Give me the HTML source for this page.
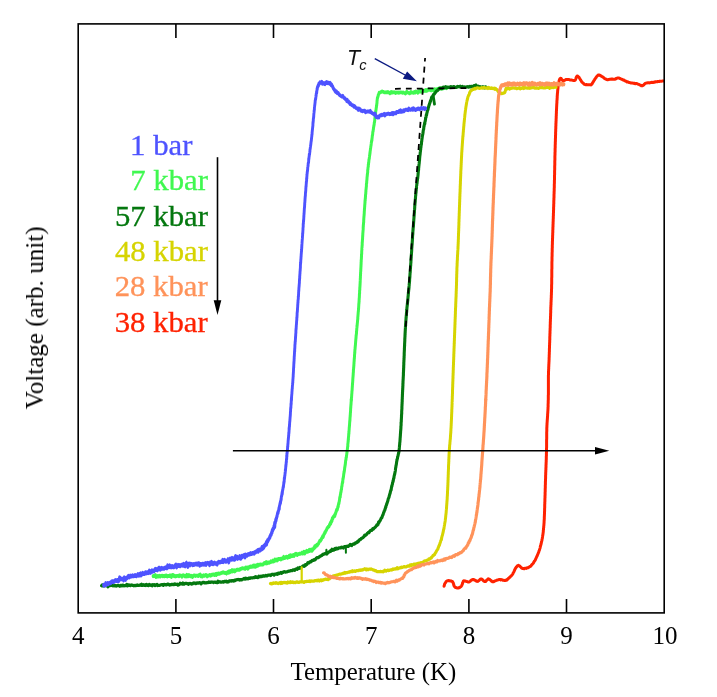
<!DOCTYPE html>
<html lang="en">
<head>
<meta charset="utf-8">
<title>Voltage vs Temperature</title>
<style>
html, body { margin: 0; padding: 0; background: #ffffff; }
body { width: 717px; height: 697px; overflow: hidden; font-family: "Liberation Serif", serif; }
svg { display: block; }
</style>
</head>
<body>
<svg width="717" height="697" viewBox="0 0 717 697">
<rect x="0" y="0" width="717" height="697" fill="#ffffff"/>
<g fill="none" stroke-linejoin="round" stroke-linecap="round">
<path transform="scale(1,1.3)" d="M153.2,443.2 L153.9,443.0 L154.6,443.1 L155.3,442.3 L156.0,443.9 L156.7,443.6 L157.4,443.0 L158.1,443.5 L158.8,443.3 L159.5,442.9 L160.2,443.5 L160.9,443.0 L161.6,443.0 L162.3,442.8 L163.0,443.3 L163.7,443.0 L164.4,443.3 L165.1,442.8 L165.8,443.1 L166.5,442.7 L167.2,443.4 L167.9,443.1 L168.6,443.1 L169.3,443.2 L170.0,442.6 L170.7,443.3 L171.4,443.8 L172.1,442.4 L172.8,442.3 L173.5,442.4 L174.2,443.3 L174.9,443.0 L175.6,443.4 L176.3,443.2 L177.0,443.0 L177.7,443.0 L178.4,442.9 L179.1,443.3 L179.8,442.5 L180.5,442.7 L181.2,443.0 L182.0,443.6 L182.7,442.6 L183.4,442.5 L184.1,442.7 L184.8,443.3 L185.5,442.8 L186.2,443.4 L186.9,442.2 L187.6,443.3 L188.3,443.3 L189.0,442.3 L189.7,442.9 L190.4,443.3 L191.1,442.9 L191.8,443.2 L192.5,443.8 L193.2,443.0 L193.9,442.7 L194.6,442.6 L195.3,443.1 L196.0,442.8 L196.7,442.8 L197.4,442.8 L198.1,443.1 L198.8,442.4 L199.5,442.2 L200.2,441.9 L200.9,443.3 L201.6,442.8 L202.3,443.4 L203.0,442.8 L203.7,442.5 L204.4,443.0 L205.1,442.7 L205.8,442.3 L206.5,442.4 L207.2,443.4 L207.9,442.8 L208.6,442.8 L209.3,442.5 L210.0,442.2 L210.7,442.8 L211.4,442.3 L212.1,442.0 L212.7,442.2 L213.4,441.8 L214.1,442.1 L214.8,442.4 L215.5,441.5 L216.2,442.3 L216.9,441.4 L217.6,441.6 L218.3,441.1 L219.0,441.3 L219.7,441.3 L220.4,441.0 L221.1,440.8 L221.8,440.7 L222.4,440.5 L223.1,440.1 L223.8,440.5 L224.5,440.7 L225.2,440.8 L225.9,440.6 L226.6,441.2 L227.3,440.3 L228.0,439.9 L228.6,440.6 L229.3,439.4 L230.0,440.1 L230.7,439.2 L231.4,439.6 L232.1,438.6 L232.8,439.6 L233.4,439.1 L234.1,438.6 L234.8,439.5 L235.5,439.0 L236.2,438.6 L236.9,438.2 L237.5,438.4 L238.2,438.2 L238.9,438.4 L239.6,438.3 L240.3,437.6 L241.0,437.6 L241.6,437.4 L242.3,437.0 L243.0,437.2 L243.7,437.2 L244.4,437.4 L245.1,437.6 L245.7,436.6 L246.4,437.0 L247.1,436.5 L247.8,437.4 L248.5,436.4 L249.2,436.5 L249.9,435.9 L250.5,435.8 L251.2,436.1 L251.9,435.7 L252.6,435.9 L253.3,435.1 L254.0,435.8 L254.6,435.1 L255.3,436.0 L256.0,435.1 L256.7,435.5 L257.4,434.4 L258.1,435.0 L258.8,434.3 L259.4,434.4 L260.1,434.4 L260.8,434.2 L261.5,434.3 L262.2,434.3 L262.8,434.2 L263.5,433.8 L264.2,433.1 L264.9,433.2 L265.5,433.3 L266.2,432.4 L266.9,433.4 L267.6,432.8 L268.2,432.7 L268.9,433.0 L269.6,432.7 L270.3,432.4 L270.9,431.8 L271.6,432.1 L272.3,432.0 L272.9,431.3 L273.6,431.9 L274.3,431.6 L274.9,430.4 L275.6,431.1 L276.3,430.4 L277.0,431.2 L277.6,430.9 L278.3,430.0 L279.0,429.9 L279.6,430.1 L280.3,429.8 L281.0,430.4 L281.7,429.9 L282.3,429.4 L283.0,429.6 L283.7,428.4 L284.4,429.2 L285.0,429.2 L285.7,428.7 L286.4,428.3 L287.1,428.7 L287.7,429.1 L288.4,428.3 L289.1,427.6 L289.8,428.5 L290.5,427.1 L291.1,427.9 L291.8,427.3 L292.5,427.7 L293.2,426.9 L293.9,427.6 L294.5,427.1 L295.2,426.2 L295.9,425.9 L296.6,426.4 L297.2,426.9 L297.9,426.3 L298.6,426.2 L299.3,425.9 L299.9,426.1 L300.6,425.9 L301.3,425.7 L302.0,425.1 L302.7,425.8 L303.4,425.7 L304.0,424.5 L304.7,425.8 L305.4,425.0 L306.1,424.4 L306.7,423.7 L307.4,424.5 L308.0,424.3 L308.7,423.6 L309.3,422.9 L309.9,423.8 L310.6,422.9 L311.2,422.7 L311.9,423.7 L312.5,423.1 L313.1,422.4 L313.7,421.6 L314.2,421.7 L314.8,420.2 L315.3,420.8 L315.8,420.1 L316.3,419.6 L316.8,419.1 L317.3,419.5 L317.7,418.9 L318.1,418.5 L318.5,418.3 L319.0,417.2 L319.4,416.6 L319.8,415.9 L320.1,416.0 L320.5,416.0 L320.9,415.2 L321.3,415.1 L321.7,413.9 L322.0,413.7 L322.4,413.2 L322.7,412.5 L323.1,413.2 L323.4,412.4 L323.8,411.3 L324.1,410.8 L324.5,410.6 L324.8,409.6 L325.1,409.8 L325.5,408.7 L325.8,408.6 L326.2,407.9 L326.5,407.6 L326.9,406.8 L327.2,406.2 L327.5,406.0 L327.9,405.6 L328.2,405.3 L328.6,405.0 L328.9,405.1 L329.3,404.3 L329.6,403.5 L330.0,403.4 L330.3,402.4 L330.7,402.7 L331.0,401.9 L331.4,400.7 L331.7,401.0 L332.0,400.6 L332.3,398.7 L332.7,399.0 L333.0,398.6 L333.3,397.6 L333.6,397.4 L333.9,397.0 L334.2,397.1 L334.5,396.5 L334.8,396.9 L335.1,395.3 L335.4,395.4 L335.7,394.5 L336.0,394.0 L336.3,393.0 L336.6,392.2 L336.8,392.1 L337.1,392.2 L337.3,392.0 L337.5,391.2 L337.7,390.6 L337.9,389.6 L338.1,390.0 L338.3,389.4 L338.4,388.1 L338.6,387.8 L338.8,386.9 L338.9,387.3 L339.1,386.4 L339.2,385.7 L339.4,385.3 L339.5,384.8 L339.6,384.0 L339.7,383.1 L339.9,382.6 L340.0,381.9 L340.1,382.2 L340.2,382.3 L340.4,380.3 L340.5,380.4 L340.6,380.0 L340.7,378.9 L340.9,378.9 L341.0,377.8 L341.1,378.2 L341.2,377.0 L341.3,376.7 L341.5,376.4 L341.6,375.4 L341.7,374.4 L341.8,374.3 L341.9,374.3 L342.0,373.4 L342.1,373.0 L342.2,372.0 L342.3,371.9 L342.4,371.6 L342.5,370.8 L342.7,371.0 L342.8,369.7 L342.9,368.8 L343.0,368.0 L343.1,368.6 L343.2,367.6 L343.3,367.5 L343.4,366.7 L343.5,366.6 L343.6,366.0 L343.7,364.8 L343.8,364.5 L343.9,364.3 L344.0,362.9 L344.1,363.4 L344.2,362.7 L344.4,362.1 L344.5,361.1 L344.6,360.8 L344.7,359.7 L344.8,359.6 L344.9,358.8 L345.0,358.6 L345.1,357.8 L345.2,357.6 L345.3,357.4 L345.4,355.9 L345.5,356.2 L345.6,354.6 L345.7,354.0 L345.8,354.2 L345.9,353.7 L346.0,353.4 L346.1,352.0 L346.2,352.1 L346.3,351.7 L346.4,351.6 L346.5,350.5 L346.6,350.2 L346.8,349.1 L346.8,348.9 L346.9,348.2 L347.0,348.1 L347.1,346.9 L347.2,346.5 L347.3,346.5 L347.3,346.4 L347.4,345.3 L347.5,344.8 L347.6,344.0 L347.6,344.0 L347.7,343.3 L347.8,343.2 L347.8,342.1 L347.9,341.1 L348.0,340.7 L348.1,340.0 L348.1,339.3 L348.2,339.8 L348.2,339.1 L348.3,337.7 L348.4,338.4 L348.4,337.2 L348.5,336.2 L348.6,336.2 L348.6,335.5 L348.7,334.7 L348.7,333.7 L348.8,333.9 L348.9,333.5 L348.9,331.8 L349.0,332.5 L349.0,332.0 L349.1,331.0 L349.1,330.7 L349.2,330.0 L349.2,329.3 L349.3,328.9 L349.3,329.1 L349.4,327.4 L349.5,327.6 L349.5,327.0 L349.6,326.1 L349.6,325.7 L349.7,324.8 L349.7,324.4 L349.8,324.2 L349.8,323.8 L349.9,322.8 L349.9,323.8 L350.0,321.9 L350.0,321.6 L350.1,320.9 L350.1,320.3 L350.2,320.4 L350.2,319.2 L350.3,319.4 L350.3,318.7 L350.4,317.4 L350.4,317.6 L350.5,316.4 L350.5,317.2 L350.6,315.5 L350.6,314.7 L350.7,313.8 L350.7,313.5 L350.8,313.2 L350.8,312.5 L350.9,311.9 L350.9,311.6 L351.0,311.2 L351.0,311.3 L351.1,309.6 L351.1,309.5 L351.2,308.8 L351.2,308.0 L351.3,307.6" stroke="#40f850" stroke-width="3.0"/>
<path transform="scale(1,1.2)" d="M351.3,333.2 L351.3,332.9 L351.4,332.8 L351.4,331.9 L351.5,331.2 L351.6,331.1 L351.6,330.4 L351.7,329.6 L351.7,329.2 L351.8,328.2 L351.8,328.1 L351.9,327.5 L351.9,326.6 L352.0,325.8 L352.0,326.1 L352.1,325.0 L352.1,325.5 L352.2,323.6 L352.2,323.6 L352.3,322.5 L352.3,322.2 L352.4,321.8 L352.4,320.7 L352.5,320.3 L352.5,319.8 L352.6,319.2 L352.6,318.8 L352.7,318.4 L352.7,317.7 L352.8,316.9 L352.8,316.1 L352.9,315.3 L352.9,314.8 L353.0,314.3 L353.0,314.2 L353.1,313.2 L353.1,312.3 L353.2,312.4 L353.2,311.3 L353.3,310.8 L353.3,310.4 L353.4,310.0 L353.4,308.4 L353.5,308.3 L353.5,308.2 L353.6,307.4 L353.6,306.6 L353.7,306.2 L353.7,306.3 L353.8,305.0 L353.8,304.9 L353.9,304.3 L353.9,303.3 L354.0,303.0 L354.0,302.1 L354.1,301.5 L354.1,300.7 L354.2,300.8 L354.2,299.8 L354.3,299.2 L354.3,298.4 L354.4,298.8 L354.4,297.9 L354.5,297.0 L354.5,296.2 L354.6,295.3 L354.6,295.4 L354.7,294.8 L354.7,293.6 L354.8,293.9 L354.8,293.2 L354.9,292.0 L354.9,291.6 L355.0,291.1 L355.1,290.7 L355.1,290.0 L355.2,288.9 L355.2,289.4 L355.3,288.4 L355.3,288.2 L355.4,287.6 L355.5,286.5 L355.5,286.1 L355.6,285.6 L355.6,285.1 L355.7,284.2 L355.8,283.4 L355.8,283.1 L355.9,282.2 L356.0,281.7 L356.0,280.6 L356.1,280.8 L356.1,279.8 L356.2,279.4 L356.3,279.0 L356.3,278.5 L356.4,278.5 L356.5,277.3 L356.5,276.2 L356.6,276.1 L356.7,275.3 L356.7,275.0 L356.8,274.1 L356.8,273.5 L356.9,273.0 L357.0,272.4 L357.0,271.4 L357.1,271.2 L357.2,270.8 L357.2,270.7 L357.3,269.6 L357.4,269.0 L357.4,268.7 L357.5,268.1 L357.5,267.9 L357.6,267.0 L357.7,266.2 L357.7,266.1 L357.8,265.5 L357.8,264.3 L357.9,263.9 L358.0,262.7 L358.0,262.5 L358.1,261.8 L358.1,261.4 L358.2,260.8 L358.2,260.3 L358.3,259.7 L358.4,259.4 L358.4,258.7 L358.5,257.8 L358.5,257.0 L358.6,257.3 L358.6,256.8 L358.7,255.5 L358.7,255.3 L358.8,254.0 L358.8,253.4 L358.9,253.3 L358.9,253.3 L359.0,251.8 L359.0,251.3 L359.1,251.6 L359.1,249.8 L359.1,250.1 L359.2,249.4 L359.2,248.6 L359.3,248.2 L359.3,248.4 L359.4,246.5 L359.4,246.2 L359.4,245.7 L359.5,244.9 L359.5,244.1 L359.6,244.6 L359.6,243.5 L359.6,242.2 L359.7,242.0 L359.7,241.8 L359.8,241.2 L359.8,240.0 L359.8,239.9 L359.9,239.4 L359.9,238.9 L360.0,238.3 L360.0,237.0 L360.0,237.7 L360.1,236.5 L360.1,236.5 L360.1,236.3 L360.2,234.6 L360.2,233.7 L360.2,233.8 L360.3,232.9 L360.3,232.2 L360.4,231.4 L360.4,231.8 L360.4,230.4 L360.5,229.5 L360.5,229.3 L360.5,228.4 L360.6,228.3 L360.6,227.5 L360.6,226.7 L360.7,226.7 L360.7,225.7 L360.7,225.6 L360.8,225.2 L360.8,224.1 L360.9,223.4 L360.9,223.1 L360.9,222.7 L361.0,221.8 L361.0,221.3 L361.0,220.7 L361.1,220.2 L361.1,219.7 L361.1,218.7 L361.2,218.2 L361.2,217.8 L361.2,216.9 L361.3,216.6 L361.3,216.2 L361.4,215.4 L361.4,214.6 L361.4,214.0 L361.5,214.3 L361.5,213.4 L361.5,212.1 L361.6,211.6 L361.6,212.0 L361.7,211.3 L361.7,210.2 L361.7,210.0 L361.8,208.5 L361.8,208.4 L361.9,208.1 L361.9,206.6 L361.9,206.4 L362.0,206.4 L362.0,205.9 L362.1,204.7 L362.1,204.4 L362.2,204.3 L362.2,203.0 L362.2,202.1 L362.3,202.0 L362.3,201.3 L362.4,201.3 L362.4,200.3 L362.5,199.4 L362.5,199.9 L362.6,198.3 L362.6,198.1 L362.6,197.6 L362.7,197.0 L362.7,196.2 L362.8,195.8 L362.8,195.0 L362.9,193.9 L362.9,193.8 L363.0,193.2 L363.0,192.6 L363.1,192.1 L363.1,191.3 L363.1,191.4 L363.2,190.9 L363.2,189.0 L363.3,189.2 L363.3,188.3 L363.4,187.1 L363.4,187.6 L363.5,186.6 L363.5,186.1 L363.6,185.4 L363.6,185.5 L363.7,184.9 L363.7,184.0 L363.7,183.6 L363.8,182.7 L363.8,182.2 L363.9,181.3 L363.9,181.0 L364.0,180.2 L364.0,180.0 L364.1,179.5 L364.1,178.8 L364.2,178.5 L364.2,178.4 L364.3,176.2 L364.3,176.3 L364.4,175.6 L364.4,175.0 L364.5,174.1 L364.5,174.0 L364.6,173.3 L364.6,172.6 L364.7,172.2 L364.7,171.5 L364.8,170.3 L364.8,170.9 L364.9,169.8 L364.9,169.0 L365.0,168.9 L365.0,167.9 L365.1,166.8 L365.2,167.3 L365.2,165.8 L365.3,165.8 L365.3,165.3 L365.4,165.2 L365.4,164.5 L365.5,163.6 L365.5,162.7 L365.6,162.2 L365.6,162.1 L365.7,161.8 L365.8,160.8 L365.8,159.8 L365.9,159.8 L365.9,158.7 L366.0,158.1 L366.1,157.6 L366.1,157.3 L366.2,156.6 L366.2,156.3 L366.3,155.8 L366.4,155.0 L366.4,153.4 L366.5,153.0 L366.5,153.1 L366.6,152.4 L366.7,152.6 L366.7,151.3 L366.8,150.7 L366.8,150.5 L366.9,149.9 L367.0,148.9 L367.0,148.5 L367.1,147.4 L367.2,146.9 L367.2,147.1 L367.3,145.6 L367.4,145.8 L367.4,145.1 L367.5,144.6 L367.6,144.1 L367.7,143.3 L367.7,141.8 L367.8,141.6 L367.9,141.2 L367.9,141.1 L368.0,139.9 L368.1,139.4 L368.2,139.0 L368.3,139.0 L368.3,137.4 L368.4,136.9 L368.5,137.0 L368.6,135.4 L368.7,135.7 L368.8,134.9 L368.9,133.9 L368.9,133.7 L369.0,132.9 L369.1,132.8 L369.2,132.3 L369.3,132.1 L369.4,131.0 L369.5,130.4 L369.6,129.6 L369.7,129.2 L369.8,129.0 L369.9,127.4 L370.0,127.7 L370.1,126.7 L370.1,126.4 L370.2,125.9 L370.3,125.5 L370.4,124.7 L370.5,123.9 L370.6,123.5 L370.7,122.9 L370.8,122.2 L370.9,121.8 L371.0,121.4 L371.1,120.6 L371.2,120.0 L371.3,118.9 L371.4,118.8 L371.5,117.6 L371.6,117.9 L371.7,116.7 L371.8,116.9 L371.9,117.0 L372.0,115.2 L372.1,115.2 L372.2,114.3 L372.3,113.4 L372.4,112.7 L372.5,112.6 L372.6,112.4 L372.7,111.4 L372.8,110.2 L372.9,109.8 L373.0,109.5 L373.1,109.4 L373.2,108.5 L373.3,107.9 L373.4,107.7 L373.5,106.6 L373.6,106.1 L373.8,105.4 L373.9,104.3 L374.0,104.5 L374.1,103.9 L374.2,103.5 L374.3,102.2 L374.4,101.8 L374.5,101.8 L374.6,101.0 L374.7,100.8 L374.8,99.4 L374.8,99.2 L374.9,98.3 L375.0,98.1 L375.1,97.2 L375.2,97.0 L375.3,96.6 L375.4,95.9 L375.5,94.5 L375.5,94.8 L375.6,94.1 L375.7,93.0 L375.8,92.5 L375.9,92.2 L376.0,91.8 L376.1,90.9 L376.2,89.9 L376.3,90.0 L376.4,89.3 L376.4,89.6 L376.5,87.7 L376.6,88.4 L376.7,87.6 L376.8,86.5 L376.9,86.3 L377.0,85.2 L377.0,84.9 L377.1,83.7 L377.2,83.4 L377.3,82.5 L377.4,81.7 L377.6,81.6 L377.7,80.9 L377.8,80.8 L378.0,80.5 L378.2,79.4 L378.5,78.9 L378.8,78.3 L379.2,77.1 L379.7,77.4 L380.2,77.0 L380.7,76.9 L381.4,76.4 L382.1,76.0 L382.9,76.5 L383.6,76.7 L384.3,77.1 L385.0,77.0 L385.7,77.1 L386.4,76.8 L387.1,77.1 L387.8,76.6 L388.5,77.0 L389.2,77.1 L389.9,77.8 L390.6,77.0 L391.3,76.5 L392.0,77.4 L392.7,76.7 L393.4,77.0 L394.1,77.0 L394.8,76.8 L395.5,77.6 L396.2,77.3 L396.9,76.9 L397.6,77.2 L398.3,77.0 L399.0,77.4 L399.7,77.1 L400.4,76.9 L401.1,77.0 L401.8,77.1 L402.5,77.4 L403.2,77.0 L403.9,77.3 L404.6,77.5 L405.3,78.1 L406.0,77.6 L406.7,76.3 L407.4,77.1 L408.1,77.2 L408.8,77.4 L409.5,77.9 L410.2,77.6 L410.9,76.5 L411.6,77.3 L412.3,77.2 L413.0,77.2 L413.7,77.5 L414.4,76.5 L415.1,77.2 L415.8,76.2 L416.5,76.7 L417.2,76.7 L417.9,77.3 L418.6,76.1 L419.3,75.7 L420.0,76.4 L420.6,75.8 L421.3,76.5 L422.0,75.6 L422.7,75.4 L423.4,76.1 L424.1,75.6 L424.8,75.8 L425.5,74.9 L426.2,75.9 L426.9,75.0 L427.6,75.5 L428.3,74.8 L429.0,74.5 L429.7,74.9 L430.4,75.0 L431.1,75.5 L431.8,75.0 L432.5,75.0 L433.2,75.0 L433.9,75.8 L434.6,74.3 L435.3,75.0 L436.0,74.4 L436.7,74.5 L437.3,74.1 L438.0,74.7 L438.7,73.7 L439.4,73.6 L440.1,73.9 L440.8,73.5 L441.5,74.0 L442.2,74.0 L442.9,73.3 L443.6,73.7 L444.3,73.1 L444.9,73.2 L445.6,73.1 L446.3,73.6 L447.0,72.8" stroke="#40f850" stroke-width="3.0"/>
<path transform="scale(1,1.05)" d="M101.6,557.9 L102.3,557.0 L103.0,558.0 L103.7,557.7 L104.4,557.7 L105.1,557.8 L105.8,557.2 L106.5,557.8 L107.2,557.5 L107.9,558.9 L108.6,557.9 L109.3,557.7 L110.0,557.7 L110.7,557.6 L111.4,557.4 L112.1,557.6 L112.8,557.9 L113.5,557.7 L114.2,558.0 L114.9,557.6 L115.6,557.7 L116.3,558.2 L117.0,557.9 L117.7,557.5 L118.4,557.6 L119.1,557.8 L119.8,558.3 L120.5,557.5 L121.2,557.5 L121.9,558.0 L122.6,557.3 L123.3,557.5 L124.0,557.9 L124.7,557.8 L125.4,557.6 L126.1,557.8 L126.8,556.6 L127.5,557.9 L128.2,557.2 L128.9,557.0 L129.6,557.6 L130.3,557.7 L131.0,557.3 L131.7,557.1 L132.4,557.5 L133.1,557.4 L133.8,557.9 L134.5,557.7 L135.2,557.5 L135.9,557.8 L136.6,557.4 L137.3,557.1 L138.0,557.6 L138.7,557.6 L139.5,557.3 L140.2,557.1 L140.9,557.4 L141.6,556.5 L142.3,557.6 L143.0,557.5 L143.7,556.8 L144.4,557.4 L145.1,557.0 L145.8,557.6 L146.5,556.6 L147.2,557.0 L147.9,557.5 L148.6,557.7 L149.3,556.6 L150.0,557.1 L150.7,557.4 L151.4,557.0 L152.1,557.8 L152.8,556.8 L153.5,557.3 L154.2,556.8 L154.9,557.7 L155.6,557.2 L156.3,557.0 L157.0,556.6 L157.7,557.7 L158.4,557.4 L159.1,557.4 L159.8,557.5 L160.5,557.2 L161.2,556.9 L161.9,556.8 L162.6,556.8 L163.3,557.5 L164.0,556.5 L164.7,556.8 L165.4,556.8 L166.1,557.0 L166.8,557.1 L167.5,556.4 L168.2,556.3 L168.9,556.8 L169.6,557.2 L170.3,557.0 L171.0,556.8 L171.7,556.6 L172.4,556.7 L173.1,556.5 L173.8,556.8 L174.5,556.2 L175.2,556.5 L175.9,556.4 L176.6,556.6 L177.3,556.4 L178.0,557.2 L178.7,556.8 L179.4,556.7 L180.1,555.5 L180.8,556.0 L181.5,555.9 L182.2,556.2 L182.9,555.3 L183.6,556.4 L184.3,556.3 L185.0,555.5 L185.7,555.5 L186.4,555.6 L187.1,555.8 L187.8,556.0 L188.5,556.4 L189.2,555.6 L189.9,555.9 L190.6,555.7 L191.3,556.2 L192.0,555.8 L192.7,556.0 L193.4,555.2 L194.1,555.4 L194.8,555.2 L195.5,555.9 L196.2,555.6 L196.9,555.2 L197.6,555.2 L198.3,555.4 L199.0,555.0 L199.7,554.9 L200.4,555.3 L201.1,556.0 L201.8,555.0 L202.5,554.9 L203.2,554.7 L203.9,554.6 L204.6,555.1 L205.3,555.2 L206.0,554.9 L206.7,555.0 L207.4,554.9 L208.1,554.8 L208.8,554.2 L209.5,554.6 L210.2,554.7 L210.9,554.4 L211.6,554.5 L212.3,554.3 L213.0,554.4 L213.7,554.8 L214.4,554.3 L215.1,554.4 L215.8,554.7 L216.5,554.6 L217.2,554.9 L217.9,553.6 L218.6,554.5 L219.3,554.0 L220.0,554.2 L220.7,554.4 L221.4,554.4 L222.1,554.3 L222.8,554.0 L223.5,554.4 L224.2,553.7 L224.9,553.7 L225.6,554.0 L226.3,553.5 L227.0,554.3 L227.7,553.9 L228.4,554.2 L229.1,553.4 L229.7,553.2 L230.4,553.3 L231.1,553.4 L231.8,552.9 L232.5,553.1 L233.2,552.9 L233.9,553.3 L234.6,552.5 L235.3,552.9 L236.0,552.3 L236.7,552.1 L237.4,552.1 L238.1,551.8 L238.8,552.2 L239.5,552.4 L240.2,552.0 L240.9,552.1 L241.6,552.3 L242.3,551.7 L242.9,551.6 L243.6,551.4 L244.3,550.8 L245.0,551.5 L245.7,550.6 L246.4,551.3 L247.1,551.0 L247.8,551.3 L248.5,550.8 L249.2,550.5 L249.9,550.8 L250.6,550.4 L251.3,550.4 L252.0,550.4 L252.7,550.3 L253.4,550.2 L254.1,549.9 L254.8,550.0 L255.5,549.2 L256.1,549.8 L256.8,549.4 L257.5,550.0 L258.2,550.0 L258.9,548.8 L259.6,549.4 L260.3,549.2 L261.0,548.8 L261.7,549.2 L262.4,548.8 L263.1,548.3 L263.8,548.6 L264.5,548.6 L265.1,548.5 L265.8,548.0 L266.5,548.5 L267.2,548.4 L267.9,547.7 L268.6,547.7 L269.3,547.8 L270.0,547.5 L270.7,548.1 L271.4,547.5 L272.0,547.0 L272.7,546.9 L273.4,547.0 L274.1,547.7 L274.8,546.7 L275.5,546.7 L276.2,546.7 L276.9,546.3 L277.5,547.0 L278.2,545.9 L278.9,546.2 L279.6,545.8 L280.3,545.9 L281.0,545.1 L281.6,546.0 L282.3,545.2 L283.0,545.1 L283.7,544.6 L284.4,544.5 L285.1,544.8 L285.8,544.8 L286.4,544.6 L287.1,544.6 L287.8,544.3 L288.5,543.9 L289.2,544.0 L289.9,543.8 L290.6,543.4 L291.3,543.5 L292.0,543.5 L292.6,543.0 L293.3,542.7 L294.0,542.8 L294.7,543.1 L295.3,542.2 L296.0,542.0 L296.7,541.8 L297.3,542.1 L298.0,540.8 L298.7,541.4 L299.3,541.4 L299.9,540.5 L300.6,541.0 L301.2,540.4 L301.8,539.8 L302.4,539.7 L303.1,538.9 L303.7,538.8 L304.3,539.3 L304.9,538.1 L305.5,538.6 L306.1,537.6 L306.7,537.6 L307.3,537.0 L307.9,535.8 L308.5,536.1 L309.1,536.0 L309.7,535.2 L310.4,534.8 L311.0,535.0 L311.6,534.4 L312.2,533.7 L312.8,533.7 L313.4,533.8 L314.0,533.0 L314.6,533.2 L315.2,533.0 L315.8,532.2 L316.4,531.5 L317.0,531.1 L317.6,531.2 L318.2,531.1 L318.8,530.6 L319.4,530.4 L320.1,529.7 L320.7,529.7 L321.3,529.1 L321.9,528.9 L322.5,528.2 L323.2,527.8 L323.8,527.9 L324.4,527.4 L325.1,527.2 L325.7,527.4 L326.3,526.9 L326.9,527.6 L327.6,526.6 L328.2,525.8 L328.8,525.9 L329.5,525.5 L330.1,524.8 L330.7,525.1 L331.3,524.2 L332.0,523.1 L332.6,524.1 L333.3,523.4 L333.9,523.8 L334.5,522.8 L335.2,522.4 L335.8,523.1 L336.5,522.1 L337.2,522.3 L337.8,522.6 L338.5,522.0 L339.2,521.8 L339.9,521.7 L340.6,521.8 L341.3,521.2 L342.0,521.5 L342.7,521.4 L343.4,521.9 L344.1,520.8 L344.7,520.5 L345.4,520.9 L346.1,520.4 L346.8,520.4 L347.5,520.2 L348.2,520.4 L348.9,519.6 L349.5,519.6 L350.2,518.6 L350.9,519.0 L351.6,519.6 L352.2,518.6 L352.9,518.4 L353.5,518.0 L354.1,518.3 L354.7,517.9 L355.3,517.1 L355.9,517.3 L356.4,516.8 L357.0,516.6 L357.6,515.7 L358.1,516.0 L358.7,515.2 L359.2,514.5 L359.7,514.0 L360.3,513.6 L360.8,513.5 L361.4,512.7 L361.9,512.8 L362.5,512.2 L363.0,512.0 L363.6,511.4 L364.1,510.7 L364.7,509.7 L365.2,510.0 L365.7,509.7 L366.3,509.1 L366.8,508.8 L367.3,508.0 L367.9,507.6 L368.4,507.0 L368.9,507.3 L369.5,506.5 L370.0,505.8 L370.5,505.1 L371.1,505.1 L371.6,505.2 L372.2,504.4 L372.7,503.6 L373.3,503.9 L373.8,503.4 L374.3,502.8 L374.9,502.3 L375.4,502.0 L375.9,501.3 L376.3,500.9 L376.8,499.9 L377.2,500.2 L377.7,499.2 L378.1,499.3 L378.5,497.4 L378.9,497.8 L379.2,497.3 L379.6,496.3 L380.0,496.0 L380.3,495.5 L380.7,494.8 L381.0,493.9 L381.3,493.4 L381.7,493.2 L382.0,492.7 L382.3,491.7 L382.5,491.1 L382.8,490.5 L383.1,490.2 L383.4,488.9 L383.6,488.2 L383.9,488.0 L384.1,487.0 L384.4,486.5 L384.6,486.1 L384.9,485.6 L385.1,484.5 L385.3,484.5 L385.6,483.0 L385.8,483.1 L386.0,481.8 L386.2,481.2 L386.4,481.2 L386.7,480.3 L386.9,479.5 L387.1,479.0 L387.3,478.6 L387.5,477.8 L387.7,477.2 L387.9,476.9 L388.1,475.7 L388.3,475.1 L388.5,474.5 L388.7,474.4 L388.9,473.7 L389.1,473.2 L389.3,472.1 L389.5,471.4 L389.7,471.1 L389.9,470.0 L390.1,469.8 L390.3,469.1 L390.4,468.0 L390.6,467.6 L390.8,466.9 L391.0,466.9 L391.2,466.5 L391.3,465.0 L391.5,464.4 L391.7,462.9 L391.9,463.1 L392.0,462.4 L392.2,461.4 L392.4,461.4 L392.5,459.9 L392.7,459.7 L392.9,459.2 L393.0,458.1 L393.2,458.2 L393.3,457.6 L393.5,456.1 L393.7,455.4 L393.8,455.5 L394.0,454.6 L394.1,453.6 L394.2,453.2 L394.4,452.6 L394.5,451.9 L394.7,451.6 L394.8,450.8 L394.9,450.6 L395.0,449.8 L395.2,448.9 L395.3,448.4 L395.4,447.8 L395.5,447.0 L395.6,445.7 L395.7,445.7 L395.8,444.8 L395.9,444.6 L396.0,443.5 L396.2,443.0 L396.3,442.2 L396.4,442.0 L396.5,440.9 L396.6,440.1 L396.7,439.6 L396.9,438.7 L397.0,438.2 L397.1,437.5 L397.3,437.0 L397.4,436.9 L397.6,435.4 L397.8,434.9 L398.0,434.2 L398.1,433.8 L398.3,432.6 L398.5,432.1 L398.6,431.6 L398.7,431.2 L398.9,430.3 L399.0,429.5 L399.0,428.7 L399.1,428.5 L399.2,428.2 L399.3,427.2 L399.3,426.5 L399.4,425.9 L399.5,424.8 L399.5,424.3 L399.6,423.7 L399.7,423.2 L399.7,422.4 L399.8,421.4 L399.8,421.5 L399.9,421.0 L400.0,419.7 L400.0,419.3 L400.1,418.6 L400.1,418.1 L400.2,416.7 L400.2,417.0 L400.3,415.7 L400.3,415.6 L400.4,414.5 L400.4,413.7 L400.5,413.1 L400.5,412.8 L400.6,411.5 L400.6,411.0 L400.7,410.3 L400.7,409.3 L400.8,409.6 L400.8,408.7 L400.9,407.8 L400.9,407.6 L400.9,406.2 L401.0,405.8 L401.0,405.7 L401.1,404.8 L401.1,403.1 L401.1,402.1 L401.2,402.2 L401.2,402.2 L401.3,401.0 L401.3,400.4 L401.3,400.0 L401.4,398.9 L401.4,398.6 L401.4,398.1 L401.5,397.3 L401.5,396.6 L401.5,395.6 L401.6,395.3 L401.6,394.3 L401.6,394.2 L401.7,394.0 L401.7,392.2 L401.7,391.1 L401.8,391.0 L401.8,390.6 L401.8,390.1 L401.9,389.5 L401.9,388.2 L401.9,387.5 L401.9,387.5 L402.0,386.1 L402.0,386.1 L402.0,385.0 L402.1,384.7 L402.1,384.0 L402.1,383.4 L402.2,382.7 L402.2,381.4 L402.2,381.2 L402.2,380.4 L402.3,379.9 L402.3,379.5 L402.3,378.3 L402.4,377.5 L402.4,376.8 L402.4,376.3 L402.4,376.0 L402.5,374.8 L402.5,374.8 L402.5,373.8 L402.6,373.0 L402.6,372.0 L402.6,371.8 L402.7,371.3 L402.7,369.8 L402.7,370.1 L402.8,369.6 L402.8,368.5 L402.8,367.9 L402.9,367.9 L402.9,366.8 L402.9,365.4 L403.0,365.0 L403.0,364.3 L403.0,363.7 L403.1,362.3 L403.1,362.6 L403.1,361.5 L403.2,361.1 L403.2,360.3 L403.2,360.0 L403.3,359.0 L403.3,358.1 L403.3,357.9 L403.4,357.5 L403.4,356.3 L403.4,356.2 L403.4,355.1 L403.5,354.2 L403.5,354.2 L403.5,352.8 L403.6,352.7 L403.6,351.5 L403.6,351.2 L403.7,350.0 L403.7,349.4 L403.7,349.4 L403.7,348.4 L403.8,347.7 L403.8,346.9 L403.8,346.5 L403.8,345.2 L403.9,344.7 L403.9,344.3 L403.9,343.4 L404.0,342.8 L404.0,342.3 L404.0,341.7 L404.0,341.0 L404.1,340.9 L404.1,340.0 L404.1,339.4 L404.2,338.4 L404.2,337.5 L404.2,336.5 L404.2,336.3 L404.3,335.0 L404.3,334.8 L404.3,334.6 L404.3,334.2 L404.4,333.4 L404.4,332.1 L404.4,331.9 L404.5,330.8 L404.5,330.6 L404.5,329.7 L404.5,329.3 L404.6,329.2 L404.6,328.0 L404.6,327.8 L404.7,326.4 L404.7,325.6 L404.7,325.5 L404.8,324.9 L404.8,323.5 L404.8,323.1 L404.9,321.9 L404.9,321.6 L404.9,321.3 L405.0,320.3 L405.0,319.5 L405.0,318.6 L405.1,318.5 L405.1,318.0 L405.1,317.2 L405.2,316.4 L405.2,315.3 L405.2,315.6 L405.3,314.3 L405.3,313.6 L405.4,313.3 L405.4,311.6 L405.4,311.7 L405.5,311.0 L405.5,310.5 L405.6,310.1 L405.6,309.2 L405.7,307.8 L405.7,307.6 L405.8,307.1 L405.8,306.4 L405.9,305.3 L405.9,304.5 L406.0,304.6 L406.0,303.8 L406.1,303.0 L406.1,301.8 L406.2,302.3 L406.3,300.1 L406.3,300.3 L406.4,300.4 L406.4,299.0 L406.5,298.5 L406.6,297.3 L406.6,297.5 L406.7,296.0 L406.7,295.8 L406.8,295.1 L406.9,294.0 L406.9,294.0 L407.0,292.6 L407.1,292.2 L407.1,291.7 L407.2,290.9 L407.3,290.6 L407.3,290.1 L407.4,289.0 L407.5,288.2 L407.6,287.6 L407.6,287.0 L407.7,286.7 L407.8,285.7 L407.8,285.2 L407.9,284.4 L408.0,283.5 L408.0,283.4 L408.1,282.1 L408.2,281.8 L408.2,281.6 L408.3,280.1 L408.4,279.8 L408.4,278.6 L408.5,278.3 L408.6,277.3 L408.6,277.0 L408.7,276.3 L408.8,275.8 L408.8,275.7 L408.9,274.6 L409.0,274.0 L409.0,273.1 L409.1,272.4 L409.2,271.5 L409.2,270.5 L409.3,270.5 L409.3,270.3 L409.4,269.3 L409.4,268.3 L409.5,268.4 L409.6,267.0 L409.6,266.3 L409.7,265.4 L409.7,264.8 L409.8,264.4 L409.8,264.5 L409.9,263.1 L409.9,262.1 L410.0,261.6 L410.0,261.1 L410.1,259.9 L410.1,259.9 L410.2,259.4 L410.2,258.6 L410.3,258.0 L410.3,256.7 L410.4,255.9 L410.4,256.3 L410.5,255.5 L410.5,254.0 L410.6,253.9 L410.6,253.2 L410.7,252.7 L410.7,251.9 L410.8,251.0 L410.8,250.6 L410.9,249.9 L410.9,249.1 L411.0,247.9 L411.0,246.8 L411.1,246.9 L411.1,246.0 L411.1,245.9 L411.2,245.4 L411.2,244.6 L411.3,243.7 L411.3,243.2 L411.4,242.9 L411.4,241.6 L411.5,241.5 L411.5,240.7 L411.6,239.9 L411.6,239.7 L411.7,238.3 L411.7,238.2 L411.7,236.9 L411.8,236.2 L411.8,235.5 L411.9,235.3 L411.9,234.2 L412.0,233.9 L412.0,232.8 L412.1,232.9 L412.1,232.5 L412.2,231.3 L412.2,231.1 L412.3,230.0 L412.3,229.9 L412.4,228.5 L412.4,227.3 L412.5,227.7 L412.5,226.5 L412.5,225.5 L412.6,225.0 L412.6,224.0 L412.7,223.8 L412.7,222.8 L412.8,223.0 L412.8,222.1 L412.9,220.6 L412.9,220.0 L413.0,219.7 L413.0,218.5 L413.1,218.5 L413.1,217.8 L413.2,216.9 L413.3,216.3 L413.3,216.0 L413.4,215.7 L413.4,215.0 L413.5,213.9 L413.5,213.5 L413.6,212.3 L413.6,212.0 L413.7,210.9 L413.7,210.8 L413.8,209.5 L413.8,208.9 L413.9,208.5 L413.9,208.1 L414.0,206.7 L414.0,206.4 L414.1,205.9 L414.1,205.3 L414.2,204.3 L414.2,203.9 L414.3,203.1 L414.3,203.0 L414.4,202.1 L414.4,200.8 L414.5,199.8 L414.5,199.9 L414.6,199.6 L414.6,198.6 L414.7,198.2 L414.7,197.0 L414.8,196.1 L414.8,196.1 L414.9,195.2 L414.9,194.8 L415.0,193.4 L415.1,193.3 L415.1,192.3 L415.2,192.2 L415.2,191.0 L415.3,190.4 L415.3,189.7 L415.4,189.6 L415.5,188.6 L415.5,187.6 L415.6,186.9 L415.6,186.2 L415.7,186.4 L415.8,184.6 L415.8,184.3 L415.9,184.1 L416.0,183.6 L416.0,182.5 L416.1,182.2 L416.2,181.5 L416.2,180.9 L416.3,179.9 L416.4,179.8 L416.5,178.7 L416.5,178.4 L416.6,176.9 L416.7,176.9 L416.8,175.5 L416.9,174.8 L417.0,174.8 L417.1,173.7 L417.1,173.5 L417.2,172.3 L417.3,172.5 L417.4,171.3 L417.5,170.3 L417.6,170.1 L417.7,169.6 L417.8,168.4 L417.8,168.2 L417.9,168.0 L418.0,167.0 L418.1,166.0 L418.1,165.2 L418.2,164.9 L418.3,163.5 L418.4,162.4 L418.4,162.5 L418.5,161.7 L418.6,162.0 L418.6,160.8 L418.7,159.7 L418.8,159.0 L418.8,158.9 L418.9,157.8 L419.0,157.2 L419.0,156.7 L419.1,156.1 L419.2,155.4 L419.2,154.8 L419.3,154.5 L419.4,154.0 L419.4,152.2 L419.5,152.9 L419.6,151.4 L419.6,151.2 L419.7,149.8 L419.8,149.5 L419.8,148.8 L419.9,148.1 L420.0,147.7 L420.1,147.0 L420.2,145.8 L420.2,145.4 L420.3,145.0 L420.4,144.3 L420.5,143.3 L420.6,142.7 L420.7,142.1 L420.7,141.1 L420.8,140.4 L420.9,140.7 L421.0,139.3 L421.1,138.8 L421.2,137.9 L421.3,137.9 L421.4,137.4 L421.5,136.1 L421.5,135.7 L421.6,134.6 L421.7,134.8 L421.8,133.8 L421.9,132.6 L422.0,132.6 L422.1,131.6 L422.2,131.0 L422.3,130.3 L422.4,129.3 L422.5,128.7 L422.7,128.4 L422.8,127.6 L422.9,126.6 L423.0,126.9 L423.1,125.5 L423.2,124.7 L423.3,124.0 L423.4,123.8 L423.6,123.3 L423.7,122.4 L423.8,121.9 L423.9,120.5 L424.1,120.2 L424.2,119.5 L424.3,119.0 L424.5,118.5 L424.6,117.0 L424.8,118.1 L424.9,116.1 L425.0,115.9 L425.2,115.4 L425.3,114.7 L425.5,113.9 L425.6,112.2 L425.8,112.1 L425.9,112.1 L426.1,110.9 L426.2,110.2 L426.4,109.1 L426.6,109.6 L426.7,108.7 L426.9,107.6 L427.1,107.2 L427.2,106.6 L427.4,105.6 L427.6,105.2 L427.8,104.8 L428.0,104.2 L428.1,103.8 L428.3,102.8 L428.5,102.0 L428.7,101.6 L428.9,100.6 L429.1,99.8 L429.3,99.9 L429.5,98.8 L429.7,98.3 L430.0,97.8 L430.2,96.6 L430.4,96.6 L430.6,95.9 L430.9,95.1 L431.2,94.6 L431.4,93.6 L431.7,92.5 L432.0,92.6 L432.4,91.8 L432.7,91.8 L433.1,91.0 L433.4,90.2 L433.8,89.8 L434.2,89.7 L434.7,89.1 L435.1,88.3 L435.6,87.9 L436.1,87.1 L436.6,86.7 L437.1,86.5 L437.7,85.8 L438.2,85.6 L438.8,84.7 L439.4,84.2 L440.0,84.0 L440.7,84.1 L441.3,84.5 L442.0,84.2 L442.7,83.3 L443.4,82.9 L444.1,83.5 L444.8,83.3 L445.5,82.7 L446.2,83.5 L446.9,83.1 L447.6,83.5 L448.3,83.1 L449.0,83.3 L449.7,83.1 L450.4,82.6 L451.1,82.9 L451.8,82.7 L452.5,83.2 L453.2,82.6 L453.9,82.4 L454.6,83.1 L455.3,83.2 L456.0,83.3 L456.7,83.2 L457.4,82.3 L458.1,82.6 L458.8,82.6 L459.5,82.8 L460.2,82.1 L460.9,82.8 L461.6,82.9 L462.3,82.4 L463.0,82.8 L463.7,83.1 L464.4,82.7 L465.1,83.1 L465.8,83.0 L466.5,82.8 L467.2,82.8 L467.9,82.5 L468.6,83.0 L469.3,82.4 L470.0,82.3 L470.7,82.7 L471.4,82.2 L472.1,82.5 L472.8,82.6 L473.4,82.0 L474.1,81.6 L474.7,81.5 L475.3,81.4 L475.9,81.0 L476.4,81.6 L477.0,83.0 L477.6,82.9 L478.2,82.1 L478.8,82.4 L479.5,82.9 L480.1,82.6 L480.8,83.1 L481.5,83.0 L482.2,83.2 L482.9,82.6 L483.7,83.2 L484.4,83.7 L485.2,82.8 L486.0,83.0" stroke="#04780f" stroke-width="3.1"/>
<path transform="scale(1,1.55)" d="M103.6,377.5 L104.3,377.8 L104.9,377.4 L105.6,376.4 L106.2,377.3 L106.9,376.9 L107.5,376.3 L108.2,376.7 L108.8,376.4 L109.5,376.2 L110.2,376.0 L110.8,376.1 L111.5,375.3 L112.1,375.4 L112.8,375.1 L113.5,375.5 L114.1,375.1 L114.8,374.8 L115.5,374.4 L116.2,374.6 L116.8,374.6 L117.5,374.3 L118.2,374.9 L118.8,374.7 L119.5,372.7 L120.2,373.0 L120.9,373.7 L121.5,373.5 L122.2,373.6 L122.9,373.5 L123.6,374.3 L124.2,372.6 L124.9,372.9 L125.6,373.9 L126.3,373.1 L126.9,373.0 L127.6,372.3 L128.3,371.7 L129.0,372.4 L129.6,372.3 L130.3,371.5 L131.0,371.7 L131.7,371.8 L132.4,371.3 L133.0,371.6 L133.7,371.6 L134.4,371.5 L135.1,371.1 L135.8,371.5 L136.4,371.6 L137.1,371.2 L137.8,370.6 L138.5,371.2 L139.2,370.5 L139.9,371.1 L140.6,370.1 L141.3,371.0 L141.9,370.4 L142.6,369.7 L143.3,370.1 L144.0,370.2 L144.7,370.2 L145.4,369.4 L146.0,369.3 L146.7,369.8 L147.4,369.3 L148.0,369.5 L148.7,369.6 L149.3,368.3 L150.0,369.0 L150.7,369.4 L151.3,368.5 L152.0,368.1 L152.7,368.7 L153.3,368.3 L154.0,368.5 L154.7,367.8 L155.3,367.1 L156.0,367.6 L156.7,367.3 L157.4,367.8 L158.0,367.4 L158.7,366.4 L159.4,366.5 L160.1,367.4 L160.8,367.2 L161.5,366.5 L162.1,366.7 L162.8,366.8 L163.5,366.7 L164.2,366.8 L164.9,366.4 L165.6,366.2 L166.3,366.0 L166.9,366.6 L167.6,364.9 L168.3,365.8 L169.0,365.8 L169.7,365.0 L170.4,365.8 L171.1,365.3 L171.8,365.9 L172.5,365.4 L173.2,365.7 L173.9,365.9 L174.6,365.5 L175.2,364.8 L175.9,364.4 L176.6,365.9 L177.3,365.0 L178.0,364.6 L178.7,365.0 L179.4,364.7 L180.1,365.2 L180.8,364.7 L181.5,364.7 L182.2,364.3 L182.9,364.8 L183.6,364.0 L184.3,364.8 L185.0,365.2 L185.7,363.7 L186.4,363.2 L187.1,364.7 L187.8,365.6 L188.5,363.9 L189.2,363.7 L189.9,364.6 L190.6,363.9 L191.3,364.0 L192.0,364.1 L192.7,364.5 L193.4,364.0 L194.1,364.3 L194.8,364.1 L195.5,363.8 L196.2,364.0 L196.9,363.7 L197.6,364.2 L198.3,363.6 L199.0,363.6 L199.7,364.8 L200.4,364.1 L201.1,364.1 L201.8,364.3 L202.5,363.8 L203.2,363.9 L203.9,364.2 L204.6,364.1 L205.3,363.4 L206.0,364.3 L206.7,363.6 L207.4,363.3 L208.1,363.4 L208.8,363.6 L209.5,364.5 L210.2,363.1 L210.9,363.7 L211.6,362.6 L212.3,363.6 L213.0,363.9 L213.7,363.3 L214.4,363.1 L215.1,363.5 L215.8,363.6 L216.4,363.5 L217.1,364.1 L217.8,363.1 L218.5,362.6 L219.2,362.8 L219.9,362.7 L220.5,362.6 L221.2,362.5 L221.9,362.4 L222.6,361.4 L223.3,362.5 L223.9,361.7 L224.6,361.3 L225.3,362.1 L226.0,362.3 L226.7,361.8 L227.4,361.6 L228.0,360.9 L228.7,362.7 L229.4,361.6 L230.1,360.5 L230.8,360.6 L231.5,360.9 L232.1,360.0 L232.8,360.7 L233.5,360.3 L234.2,361.0 L234.9,360.8 L235.5,358.9 L236.2,360.1 L236.9,359.2 L237.6,360.4 L238.3,359.9 L238.9,359.9 L239.6,359.0 L240.3,360.3 L241.0,360.3 L241.6,358.7 L242.3,359.3 L243.0,358.6 L243.7,358.8 L244.3,358.1 L245.0,359.5 L245.7,358.0 L246.4,358.2 L247.0,358.4 L247.7,357.8 L248.4,357.8 L249.1,357.5 L249.7,357.6 L250.4,357.0 L251.1,357.2 L251.7,357.2 L252.4,356.9 L253.1,357.0 L253.7,356.7 L254.4,357.0 L255.0,356.3 L255.7,356.2 L256.3,355.8 L256.9,355.7 L257.6,355.1 L258.2,355.8 L258.9,354.8 L259.5,354.7 L260.1,355.0 L260.7,354.8 L261.3,354.2 L261.9,353.1 L262.4,354.1 L262.9,353.7 L263.4,352.6 L263.8,353.3 L264.3,352.3 L264.7,351.7 L265.1,351.9 L265.5,351.4 L265.9,351.2 L266.3,349.9 L266.6,351.2 L267.0,349.6 L267.4,348.8 L267.7,349.4 L268.1,348.6 L268.4,348.5 L268.7,347.8 L269.1,347.5 L269.4,347.2 L269.7,346.4 L270.0,346.6 L270.3,345.7 L270.6,345.1 L270.9,345.1 L271.2,344.9 L271.4,344.1 L271.7,343.4 L272.0,343.7 L272.2,342.1 L272.5,342.1 L272.8,342.2 L273.0,341.1 L273.2,341.3 L273.5,340.8 L273.7,340.9 L273.9,339.6 L274.2,339.3 L274.4,339.3 L274.6,337.5 L274.8,339.8 L275.0,337.5 L275.2,337.1 L275.3,337.4 L275.5,336.5 L275.7,335.3 L275.9,336.0 L276.1,335.7 L276.2,334.6 L276.4,334.2 L276.6,334.2 L276.8,333.1 L277.0,333.3 L277.2,332.7 L277.3,331.9 L277.5,331.1 L277.7,331.2 L277.9,330.4 L278.1,330.9 L278.2,330.1 L278.4,329.9 L278.6,329.2 L278.8,328.8 L278.9,327.9 L279.1,328.1 L279.3,328.2 L279.4,326.8 L279.6,326.2 L279.7,326.0 L279.9,325.4 L280.0,324.8 L280.2,324.8 L280.3,324.1 L280.5,324.5 L280.6,323.4 L280.8,323.1 L280.9,323.0 L281.0,321.9 L281.2,322.3 L281.3,320.9 L281.4,320.3 L281.6,320.1 L281.7,319.8 L281.9,318.7 L282.0,318.9 L282.1,317.7 L282.2,318.7 L282.4,317.6 L282.5,316.9 L282.6,316.3 L282.7,316.1 L282.9,315.7 L283.0,314.9 L283.1,314.5 L283.2,314.4 L283.3,313.8 L283.4,314.1 L283.5,313.7 L283.6,312.7 L283.7,312.5 L283.8,311.2 L283.9,311.7 L284.0,310.9 L284.1,310.7 L284.2,310.8 L284.3,308.5 L284.4,309.3 L284.5,308.2 L284.6,308.5 L284.7,307.2 L284.7,307.1 L284.8,307.0 L284.9,306.7 L285.0,306.0 L285.1,305.2 L285.1,304.8 L285.2,305.1 L285.3,304.2 L285.4,302.9 L285.5,303.7 L285.5,303.1 L285.6,302.8 L285.7,301.8 L285.7,301.9 L285.8,300.5 L285.9,300.9 L285.9,299.9 L286.0,300.0 L286.1,299.7 L286.2,298.4 L286.2,298.3 L286.3,297.9 L286.4,298.0 L286.4,297.3 L286.5,296.0 L286.5,296.3 L286.6,296.0 L286.7,296.2 L286.7,293.9 L286.8,294.0 L286.9,294.5 L286.9,292.7 L287.0,292.4 L287.1,292.7 L287.1,292.5 L287.2,291.3 L287.3,291.4 L287.3,290.7 L287.4,291.0 L287.5,289.8 L287.5,289.8 L287.6,288.5 L287.6,288.3 L287.7,287.9 L287.8,288.1 L287.8,287.4 L287.9,286.3 L288.0,286.5 L288.0,286.1 L288.1,285.2 L288.1,284.7 L288.2,284.3 L288.3,283.1 L288.3,283.6 L288.4,283.1 L288.4,282.2 L288.5,282.5 L288.6,281.0 L288.6,281.0 L288.7,280.6 L288.7,281.3 L288.8,279.1 L288.9,279.7 L288.9,279.4 L289.0,278.7 L289.0,278.7 L289.1,277.1 L289.1,276.1 L289.2,277.1 L289.3,275.7 L289.3,275.7 L289.4,274.8 L289.4,275.4 L289.5,274.9 L289.5,273.7 L289.6,274.0 L289.6,273.2 L289.7,272.6 L289.7,272.2 L289.8,271.7 L289.9,271.6 L289.9,271.0 L290.0,270.2 L290.0,270.5 L290.1,269.2 L290.1,269.2 L290.2,268.8 L290.2,268.9 L290.3,267.5 L290.3,268.1 L290.4,266.9 L290.4,266.3 L290.5,265.6 L290.5,265.7 L290.6,265.0 L290.6,264.0 L290.7,263.6 L290.7,263.4 L290.8,262.9 L290.8,263.3 L290.9,263.0 L290.9,262.3 L291.0,261.6 L291.0,260.7 L291.1,260.5 L291.1,260.5 L291.2,260.6 L291.2,259.6 L291.3,258.6 L291.3,258.3 L291.4,257.6" stroke="#4e53ff" stroke-width="2.9"/>
<path transform="scale(1,1.35)" d="M291.4,295.8 L291.4,295.2 L291.5,294.9 L291.5,294.5 L291.6,294.6 L291.6,293.4 L291.7,293.4 L291.7,293.0 L291.8,291.9 L291.9,291.9 L291.9,291.1 L292.0,290.1 L292.0,289.9 L292.1,289.3 L292.1,288.6 L292.2,288.1 L292.3,287.8 L292.3,287.3 L292.4,286.3 L292.4,286.1 L292.5,285.1 L292.5,285.2 L292.6,284.8 L292.6,284.1 L292.7,283.7 L292.8,283.3 L292.8,282.3 L292.9,281.9 L292.9,281.7 L292.9,281.3 L293.0,280.6 L293.0,280.9 L293.1,279.4 L293.1,279.3 L293.2,278.8 L293.2,277.8 L293.3,277.0 L293.3,276.4 L293.3,276.4 L293.4,276.2 L293.4,275.4 L293.5,274.8 L293.5,274.1 L293.5,273.9 L293.6,272.4 L293.6,272.8 L293.7,272.2 L293.7,271.1 L293.7,271.9 L293.8,270.1 L293.8,269.7 L293.9,269.1 L293.9,269.5 L293.9,268.2 L294.0,268.3 L294.0,267.7 L294.1,267.1 L294.1,266.0 L294.1,265.7 L294.2,266.0 L294.2,264.4 L294.3,264.1 L294.3,263.8 L294.3,263.7 L294.4,262.9 L294.4,262.6 L294.5,261.4 L294.5,261.6 L294.5,261.0 L294.6,259.7 L294.6,260.3 L294.7,260.1 L294.7,258.4 L294.8,258.2 L294.8,258.2 L294.9,256.6 L294.9,255.9 L294.9,255.6 L295.0,255.4 L295.0,254.8 L295.1,254.8 L295.1,254.1 L295.2,253.0 L295.2,253.2 L295.3,253.2 L295.3,252.4 L295.4,251.8 L295.4,250.9 L295.5,250.8 L295.5,249.5 L295.6,249.6 L295.6,248.8 L295.7,248.7 L295.7,248.0 L295.8,246.9 L295.8,246.8 L295.9,246.7 L295.9,245.3 L295.9,245.0 L296.0,244.4 L296.0,243.6 L296.1,244.0 L296.1,243.6 L296.2,242.9 L296.2,242.2 L296.3,241.6 L296.3,241.2 L296.4,240.3 L296.4,240.4 L296.5,239.9 L296.5,239.4 L296.6,238.3 L296.6,238.0 L296.7,237.4 L296.7,237.6 L296.8,236.5 L296.8,235.2 L296.9,235.5 L296.9,235.6 L297.0,234.6 L297.0,234.2 L297.1,233.3 L297.1,232.1 L297.2,231.6 L297.2,231.3 L297.3,231.2 L297.3,230.8 L297.4,230.5 L297.4,229.6 L297.5,229.5 L297.5,228.5 L297.6,227.9 L297.6,227.9 L297.7,226.8 L297.7,225.6 L297.8,225.7 L297.8,225.6 L297.9,223.9 L297.9,224.4 L298.0,223.9 L298.0,222.9 L298.1,222.4 L298.1,222.3 L298.2,221.7 L298.2,221.9 L298.3,221.0 L298.3,219.8 L298.4,219.5 L298.4,219.6 L298.5,219.5 L298.5,218.4 L298.6,217.9 L298.6,217.9 L298.6,216.7 L298.7,216.1 L298.7,215.2 L298.8,215.0 L298.8,215.5 L298.9,213.6 L298.9,213.6 L299.0,212.6 L299.0,212.6 L299.1,212.4 L299.1,211.5 L299.2,211.3 L299.2,210.8 L299.3,210.2 L299.3,210.1 L299.4,209.3 L299.4,208.3 L299.5,207.7 L299.5,207.1 L299.5,207.1 L299.6,206.3 L299.6,206.9 L299.7,206.0 L299.7,204.7 L299.8,204.2 L299.8,204.4 L299.9,202.6 L299.9,202.6 L300.0,202.6 L300.0,201.4 L300.1,201.0 L300.1,200.6 L300.2,200.4 L300.2,199.7 L300.3,199.3 L300.3,198.8 L300.4,198.1 L300.4,198.0 L300.4,196.8 L300.5,196.0 L300.5,195.4 L300.6,194.9 L300.6,194.8 L300.7,194.8 L300.7,194.0 L300.8,193.2 L300.8,192.5 L300.9,192.2 L300.9,191.7 L301.0,191.2 L301.0,190.3 L301.1,190.1 L301.1,190.2 L301.2,188.5 L301.2,188.7 L301.3,187.5 L301.3,187.8 L301.4,186.9 L301.4,185.9 L301.5,186.2 L301.5,186.3 L301.6,185.2 L301.6,185.1 L301.7,184.1 L301.7,182.8 L301.8,183.3 L301.8,182.4 L301.8,181.5 L301.9,181.8 L301.9,181.1 L302.0,180.3 L302.0,180.3 L302.1,179.1 L302.1,179.2 L302.2,178.1 L302.2,178.1 L302.3,177.0 L302.3,177.4 L302.4,176.4 L302.4,176.4 L302.5,175.0 L302.5,174.6 L302.6,174.6 L302.6,172.7 L302.7,172.8 L302.7,173.1 L302.8,172.4 L302.8,172.0 L302.9,171.0 L302.9,170.9 L303.0,169.9 L303.0,169.1 L303.1,168.5 L303.1,168.4 L303.2,167.9 L303.2,167.3 L303.2,165.7 L303.3,165.8 L303.3,165.8 L303.4,165.6 L303.4,164.7 L303.5,164.1 L303.5,163.1 L303.6,164.1 L303.6,162.5 L303.7,163.0 L303.7,162.4 L303.8,161.4 L303.8,160.6 L303.9,160.3 L303.9,159.3 L304.0,159.3 L304.0,158.7 L304.0,158.4 L304.1,158.0 L304.1,157.8 L304.2,156.5 L304.2,156.5 L304.3,155.3 L304.3,154.8 L304.4,154.4 L304.4,153.7 L304.5,153.9 L304.5,153.4 L304.6,153.0 L304.6,152.0 L304.7,151.6 L304.7,150.7 L304.8,150.0 L304.8,150.1 L304.9,149.5 L304.9,148.5 L305.0,148.6 L305.0,147.2 L305.1,147.3 L305.1,146.6 L305.2,146.1 L305.2,145.4 L305.3,145.6 L305.3,145.0 L305.4,144.7 L305.4,143.8 L305.5,142.7 L305.6,142.5 L305.6,141.7 L305.7,141.8 L305.7,141.6 L305.8,140.7 L305.8,139.9 L305.9,139.4 L305.9,139.1 L306.0,138.0 L306.1,138.1 L306.1,137.6 L306.2,136.8 L306.2,136.3 L306.3,136.0 L306.3,135.1 L306.4,134.6 L306.5,134.7 L306.5,134.0 L306.6,134.0 L306.6,132.5 L306.7,131.7 L306.8,132.2 L306.8,131.6 L306.9,130.5 L307.0,129.7 L307.0,129.7 L307.1,128.6 L307.2,128.6 L307.2,127.4 L307.3,127.6 L307.4,126.4 L307.4,126.5 L307.5,126.7 L307.6,125.5 L307.7,125.4 L307.7,124.3 L307.8,123.7 L307.9,123.0 L308.0,123.4 L308.0,122.5 L308.1,122.6 L308.2,121.0 L308.3,120.9 L308.4,120.5 L308.5,120.5 L308.6,120.1 L308.7,118.7 L308.7,118.0 L308.8,117.2 L308.9,117.9 L309.0,116.8 L309.1,116.1 L309.2,115.8 L309.3,114.3 L309.4,114.1 L309.5,114.6 L309.6,113.9 L309.7,113.3 L309.8,112.3 L309.8,112.4 L309.9,112.3 L310.0,110.7 L310.1,110.7 L310.2,110.0 L310.3,109.8 L310.4,109.1 L310.5,108.5 L310.6,107.8 L310.7,107.6 L310.8,106.8 L310.9,106.5 L310.9,106.0 L311.0,105.8 L311.1,104.8 L311.2,104.4 L311.3,104.4 L311.4,103.4 L311.5,102.8 L311.5,102.7 L311.6,102.0 L311.7,101.4 L311.8,101.0 L311.8,99.9 L311.9,100.0 L312.0,99.8 L312.1,99.0 L312.1,97.7 L312.2,97.9 L312.3,96.9 L312.3,96.7 L312.4,96.3 L312.5,95.3 L312.5,95.7 L312.6,94.7 L312.7,94.5 L312.7,93.9 L312.8,93.6 L312.9,93.1 L312.9,91.5 L313.0,91.6 L313.0,90.3 L313.1,90.4 L313.2,90.3 L313.2,89.8 L313.3,89.5 L313.3,88.3 L313.4,88.1 L313.5,87.5 L313.5,87.4 L313.6,87.0 L313.7,85.8 L313.7,86.8 L313.8,84.9 L313.9,84.2 L313.9,84.0 L314.0,83.6 L314.1,83.0 L314.1,82.0 L314.2,82.3 L314.3,81.3 L314.4,81.3 L314.4,80.7 L314.5,79.2 L314.6,78.8 L314.7,78.3 L314.7,78.2 L314.8,77.7 L314.9,77.2 L315.0,76.3 L315.1,76.2 L315.1,76.1 L315.2,74.6 L315.3,74.5 L315.4,74.1 L315.5,73.4 L315.6,72.9 L315.7,73.1 L315.8,72.4 L315.9,71.7 L316.0,70.6 L316.1,71.2 L316.2,70.0 L316.3,69.2 L316.4,68.8 L316.5,68.2 L316.7,68.7 L316.8,67.4 L317.0,66.9 L317.1,65.5 L317.3,66.0 L317.4,64.8 L317.6,64.3 L317.8,64.4 L318.1,63.4 L318.3,63.6 L318.6,63.2 L318.9,61.8 L319.4,62.0 L320.0,61.0 L320.6,61.3 L321.2,61.4 L321.8,60.6 L322.4,62.0 L323.0,61.5 L323.7,61.6 L324.3,62.2 L324.9,62.4 L325.5,61.3 L326.1,61.5 L326.7,60.7 L327.4,61.6 L328.0,61.2 L328.7,61.2 L329.4,62.0 L330.1,61.4 L330.7,62.0 L331.2,63.2 L331.7,62.7 L332.0,63.7 L332.3,63.7 L332.6,63.9 L332.9,64.5 L333.1,65.2 L333.4,65.5 L333.7,65.9 L334.1,66.3 L334.5,66.4 L334.9,67.4 L335.4,67.9 L336.0,68.3 L336.5,67.7 L337.1,69.0 L337.7,69.0 L338.2,68.8 L338.8,69.7 L339.4,70.3 L339.9,70.5 L340.5,70.9 L341.1,71.2 L341.7,71.5 L342.3,71.5 L342.8,71.0 L343.4,71.8 L344.0,72.5 L344.6,72.5 L345.1,73.2 L345.7,73.6 L346.2,73.6 L346.7,74.7 L347.2,74.0 L347.7,75.1 L348.1,74.9 L348.6,75.2 L349.1,76.1 L349.5,76.1 L350.0,77.0 L350.5,76.6 L351.0,77.4 L351.5,77.4 L352.1,77.9 L352.7,78.2 L353.3,78.2 L353.9,79.1 L354.5,78.6 L355.1,79.0 L355.8,79.9 L356.4,80.2 L357.0,80.3 L357.6,80.4 L358.3,81.4 L358.9,80.4 L359.5,80.8 L360.1,80.9 L360.8,81.9 L361.4,81.8 L362.1,82.3 L362.7,82.4 L363.4,82.1 L364.1,82.0 L364.8,82.0 L365.5,83.2 L366.2,82.8 L366.9,82.7 L367.6,82.5 L368.3,82.6 L369.0,82.6 L369.6,82.8 L370.3,82.1 L370.9,83.2 L371.6,83.3 L372.2,83.8 L372.8,84.0 L373.4,84.5 L374.0,84.5 L374.6,85.1 L375.1,84.2 L375.6,85.2 L376.1,86.7 L376.6,86.1 L377.1,86.7 L377.7,87.1 L378.3,86.5 L378.9,86.9 L379.5,85.9 L380.1,85.5 L380.8,85.4 L381.4,85.0 L382.1,85.3 L382.7,84.9 L383.4,85.0 L384.1,84.4 L384.8,85.6 L385.4,84.6 L386.1,84.5 L386.8,84.6 L387.5,84.3 L388.2,84.1 L388.9,84.3 L389.6,84.6 L390.3,84.4 L391.0,84.5 L391.7,83.8 L392.4,83.7 L393.1,84.6 L393.8,83.7 L394.5,83.9 L395.2,83.9 L395.9,84.0 L396.6,82.9 L397.3,83.1 L397.9,83.0 L398.6,83.0 L399.3,82.1 L400.0,82.8 L400.7,81.7 L401.4,82.8 L402.0,82.7 L402.7,82.6 L403.4,81.8 L404.1,82.4 L404.8,81.6 L405.4,81.3 L406.1,81.3 L406.8,81.2 L407.5,81.5 L408.2,81.6 L408.8,80.4 L409.5,81.0 L410.2,81.4 L410.9,81.1 L411.6,81.2 L412.3,80.4 L413.0,81.3 L413.7,80.3 L414.4,80.9 L415.1,81.3 L415.8,81.5 L416.5,80.9 L417.2,81.0 L417.9,80.4 L418.6,80.4 L419.3,81.0 L420.0,80.5 L420.7,80.4 L421.4,79.9 L422.1,80.5 L422.8,80.6 L423.5,80.0 L424.2,80.1 L424.9,80.8 L425.6,80.2" stroke="#4e53ff" stroke-width="2.9"/>
<path transform="scale(1,1.0)" d="M444.1,586.2 L444.3,585.5 L444.6,584.0 L444.9,583.5 L445.3,582.9 L445.7,582.3 L446.1,581.6 L446.5,581.3 L447.0,580.9 L447.5,580.8 L448.0,580.7 L448.7,580.6 L449.5,580.7 L450.3,581.0 L451.1,581.0 L451.8,581.3 L452.3,581.5 L452.6,581.9 L452.9,582.2 L453.2,583.1 L453.4,583.6 L453.7,584.4 L453.9,585.4 L454.2,586.1 L454.5,586.5 L454.9,586.9 L455.4,587.5 L456.1,587.6 L456.9,588.0 L457.6,588.0 L458.2,588.0 L458.9,587.8 L459.6,587.5 L460.3,587.0 L460.9,586.7 L461.3,586.1 L461.7,585.6 L462.0,584.8 L462.3,584.2 L462.6,583.3 L462.8,582.3 L463.1,581.9 L463.4,581.1 L463.7,580.8 L464.2,580.8 L464.7,581.0 L465.4,581.0 L466.1,581.4 L466.8,581.6 L467.6,581.7 L468.3,582.1 L468.9,582.1 L469.5,581.7 L470.2,581.3 L470.8,580.6 L471.4,580.1 L472.0,579.8 L472.6,579.7 L473.2,579.4 L473.9,579.7 L474.5,580.0 L475.2,580.3 L475.9,580.8 L476.5,581.2 L477.1,581.1 L477.8,581.4 L478.4,580.8 L479.0,580.6 L479.5,580.0 L480.1,579.4 L480.7,578.9 L481.3,578.9 L481.8,579.1 L482.4,579.6 L482.9,580.1 L483.5,580.9 L484.1,581.2 L484.6,581.6 L485.2,581.6 L485.7,581.5 L486.3,580.6 L486.8,580.1 L487.4,579.7 L487.9,579.0 L488.5,578.8 L489.1,579.1 L489.6,579.3 L490.2,580.0 L490.8,580.3 L491.4,581.0 L492.0,581.5 L492.6,581.8 L493.3,581.6 L493.9,581.7 L494.5,581.2 L495.2,580.9 L495.9,580.6 L496.5,580.4 L497.2,580.0 L497.9,579.9 L498.6,579.7 L499.2,579.5 L499.9,579.5 L500.6,579.9 L501.3,579.6 L502.0,579.8 L502.7,580.2 L503.4,580.3 L504.1,580.3 L504.7,580.6 L505.3,580.5 L506.0,580.1 L506.6,580.2 L507.2,579.8 L507.7,579.3 L508.3,578.5 L508.9,578.1 L509.4,577.5 L509.9,577.2 L510.4,576.6 L510.9,576.2 L511.4,575.6 L511.8,575.2 L512.3,574.6 L512.7,574.1 L513.1,573.2 L513.4,572.6 L513.7,572.2 L514.0,571.5 L514.3,570.9 L514.6,570.2 L514.8,569.6 L515.1,569.0 L515.5,568.4 L515.9,567.8 L516.3,567.0 L516.8,566.7 L517.3,565.9 L517.9,565.6 L518.4,565.3 L518.9,565.6 L519.5,565.8 L520.0,566.4 L520.6,567.0 L521.1,567.5 L521.7,568.0 L522.3,568.4 L522.9,568.6 L523.6,568.5 L524.2,568.8 L524.9,568.3 L525.7,568.2 L526.4,568.4 L527.1,567.8 L527.8,567.8 L528.5,567.5 L529.1,567.2 L529.7,566.7 L530.2,566.4 L530.7,566.1 L531.2,565.6 L531.7,564.7 L532.2,564.4 L532.6,563.8 L533.1,563.4 L533.5,562.8 L533.8,562.1 L534.2,561.5 L534.6,561.0 L534.9,560.5 L535.3,560.1 L535.6,559.1 L535.9,558.5 L536.2,557.9 L536.5,557.2 L536.8,556.6 L537.1,556.0 L537.4,555.3 L537.6,554.5 L537.9,554.0 L538.2,553.4 L538.4,552.7 L538.7,552.2 L538.9,551.5 L539.1,550.7 L539.4,550.2 L539.6,549.2 L539.8,548.8 L540.0,548.2 L540.2,547.3 L540.3,546.7 L540.5,546.1 L540.7,545.5 L540.9,544.7 L541.1,544.0 L541.2,543.4 L541.4,542.6 L541.5,541.8 L541.7,541.2 L541.9,540.5 L542.0,539.7 L542.1,539.2 L542.3,538.4 L542.4,537.9 L542.5,536.9 L542.6,536.3 L542.7,535.5 L542.8,535.2 L542.9,534.5 L543.0,533.8 L543.1,533.1 L543.2,532.3 L543.3,531.6 L543.3,530.6 L543.4,530.2 L543.5,529.4 L543.5,528.7 L543.6,527.9 L543.7,527.5 L543.7,526.7 L543.8,525.8 L543.9,525.3 L543.9,524.5 L544.0,523.7 L544.0,523.1 L544.1,522.3 L544.1,521.5 L544.1,520.9 L544.2,520.4 L544.2,519.7 L544.3,519.0 L544.3,518.1 L544.3,517.5 L544.3,516.8 L544.4,516.2 L544.4,515.3 L544.4,514.6 L544.5,514.2 L544.5,513.3 L544.5,512.6 L544.5,511.8 L544.6,511.2 L544.6,510.7 L544.6,509.9 L544.6,509.1 L544.6,508.3 L544.7,507.9 L544.7,507.2 L544.7,506.5 L544.7,505.7 L544.7,504.7 L544.8,504.1 L544.8,503.6 L544.8,502.8 L544.8,502.2 L544.9,501.4 L544.9,500.6 L544.9,500.1 L544.9,499.3 L544.9,498.6 L545.0,497.9 L545.0,497.2 L545.0,496.7 L545.0,496.0 L545.1,494.9 L545.1,494.4 L545.1,493.6 L545.1,493.1 L545.1,492.2 L545.2,491.7 L545.2,491.0 L545.2,490.3 L545.2,489.4 L545.2,488.8 L545.3,488.0 L545.3,487.5 L545.3,486.8 L545.3,485.8 L545.3,485.2 L545.4,484.6 L545.4,483.8 L545.4,483.4 L545.4,482.5 L545.4,481.8 L545.5,481.0 L545.5,480.6 L545.5,479.7 L545.5,479.1 L545.6,478.3 L545.6,477.3 L545.6,476.7 L545.6,476.0 L545.6,475.6 L545.7,474.7 L545.7,474.1 L545.7,473.4 L545.7,472.7 L545.8,472.1 L545.8,471.3 L545.8,470.4 L545.9,469.8 L545.9,469.4 L545.9,468.4 L545.9,468.0 L546.0,467.3 L546.0,466.3 L546.0,465.7 L546.0,464.8 L546.1,464.4 L546.1,463.5 L546.1,462.7 L546.2,462.1 L546.2,461.4 L546.2,460.7 L546.2,460.1 L546.3,459.4 L546.3,458.6 L546.3,458.1 L546.3,457.6 L546.3,456.6 L546.4,455.8 L546.4,455.1 L546.4,454.6 L546.4,453.7 L546.4,453.1 L546.5,452.1 L546.5,451.5 L546.5,450.8 L546.5,450.4 L546.5,449.5 L546.5,448.6 L546.5,448.2 L546.6,447.6 L546.6,446.9 L546.6,445.7 L546.6,445.4 L546.6,444.8 L546.6,444.0 L546.6,443.2 L546.6,442.3 L546.6,441.8 L546.6,441.1 L546.6,440.5 L546.6,439.8 L546.7,439.0 L546.7,438.5 L546.7,437.5 L546.7,436.9 L546.7,436.3 L546.7,435.6 L546.7,434.8 L546.7,434.3 L546.7,433.5 L546.7,432.6 L546.7,432.1 L546.8,431.2 L546.8,430.5 L546.8,429.8 L546.8,429.4 L546.8,428.7 L546.8,427.7 L546.9,427.3 L546.9,426.6 L546.9,425.7 L547.0,425.1 L547.0,424.6 L547.0,423.7 L547.1,423.0 L547.1,422.4 L547.2,421.4 L547.2,420.7 L547.3,420.0 L547.3,419.4 L547.4,418.9 L547.4,417.9 L547.5,417.2 L547.5,416.7 L547.6,415.9 L547.6,415.3 L547.6,414.5 L547.7,413.8 L547.7,413.1 L547.8,412.5 L547.8,411.6 L547.9,410.9 L547.9,410.5 L547.9,410.0 L548.0,409.1 L548.0,408.1 L548.0,407.6 L548.1,407.0 L548.1,406.0 L548.1,405.4 L548.1,404.7 L548.1,403.9 L548.2,403.3 L548.2,402.8 L548.2,401.9 L548.2,401.2 L548.2,400.8 L548.3,399.8 L548.3,398.9 L548.3,398.5 L548.3,398.0 L548.3,397.1 L548.3,396.4 L548.3,395.5 L548.4,394.8 L548.4,394.4 L548.4,393.7 L548.4,392.9 L548.4,392.1 L548.4,391.3 L548.4,390.6 L548.4,389.9 L548.4,389.4 L548.4,388.5 L548.4,387.9 L548.4,387.3 L548.4,386.6 L548.4,385.8 L548.4,385.2 L548.4,384.4 L548.4,383.5 L548.4,383.0 L548.4,382.3 L548.4,381.6 L548.4,381.0 L548.4,380.2 L548.4,379.7 L548.4,378.8 L548.4,378.1 L548.4,377.5 L548.4,376.7 L548.4,376.1 L548.4,375.4 L548.5,374.7 L548.5,373.8 L548.5,373.1 L548.5,372.4 L548.5,371.8 L548.6,370.9 L548.6,370.3 L548.6,369.6 L548.7,368.9 L548.7,368.2 L548.7,367.7 L548.7,367.0 L548.8,366.3 L548.8,365.4 L548.8,364.7 L548.9,364.1 L548.9,363.6 L548.9,362.9 L549.0,361.9 L549.0,361.4 L549.0,360.9 L549.1,359.8 L549.1,359.2 L549.1,358.7 L549.1,357.9 L549.2,357.0 L549.2,356.6 L549.2,355.8 L549.2,355.1 L549.3,354.1 L549.3,353.6 L549.3,353.1 L549.3,352.3 L549.4,351.6 L549.4,350.8 L549.4,350.3 L549.4,349.4 L549.4,348.8 L549.5,348.0 L549.5,347.2 L549.5,346.8 L549.5,345.7 L549.6,345.1 L549.6,344.5 L549.6,343.6 L549.6,342.9 L549.7,342.4 L549.7,341.6 L549.7,341.0 L549.7,340.3 L549.8,339.9 L549.8,338.8 L549.8,338.5 L549.8,337.5 L549.8,336.8 L549.9,335.8 L549.9,335.2 L549.9,334.7 L549.9,334.0 L550.0,333.2 L550.0,332.6 L550.0,332.0 L550.0,331.1 L550.1,330.3 L550.1,329.7 L550.1,329.0 L550.1,328.4 L550.2,327.8 L550.2,326.9 L550.2,326.3 L550.2,325.5 L550.2,324.9 L550.3,324.3 L550.3,323.6 L550.3,322.7 L550.3,322.0 L550.4,321.3 L550.4,320.6 L550.4,319.9 L550.4,319.2 L550.5,318.5 L550.5,317.7 L550.5,317.0 L550.5,316.5 L550.6,316.1 L550.6,315.1 L550.6,314.4 L550.6,313.7 L550.7,312.9 L550.7,312.5 L550.7,311.5 L550.7,310.7 L550.7,310.0 L550.8,309.5 L550.8,308.6 L550.8,308.0 L550.8,307.3 L550.9,306.5 L550.9,306.0 L550.9,305.1 L551.0,304.8 L551.0,303.5 L551.0,303.0 L551.0,302.5 L551.1,301.8 L551.1,301.0 L551.1,300.4 L551.2,299.7 L551.2,299.0 L551.2,298.3 L551.3,297.6 L551.3,296.8 L551.3,296.1 L551.3,295.6 L551.4,294.7 L551.4,294.1 L551.4,293.5 L551.4,292.7 L551.5,292.1 L551.5,291.2 L551.5,290.6 L551.5,289.9 L551.5,289.2 L551.6,288.5 L551.6,287.9 L551.6,287.0 L551.6,286.3 L551.6,285.7 L551.6,284.8 L551.7,284.2 L551.7,283.7 L551.7,282.8 L551.7,282.2 L551.7,281.5 L551.7,280.9 L551.7,280.1 L551.7,279.4 L551.7,278.2 L551.7,277.9 L551.8,277.3 L551.8,276.5 L551.8,275.7 L551.8,275.2 L551.8,274.3 L551.8,273.7 L551.8,273.1 L551.8,272.3 L551.8,271.6 L551.8,270.9 L551.8,270.1 L551.8,269.5 L551.9,268.8 L551.9,268.0 L551.9,267.5 L551.9,266.7 L551.9,265.9 L551.9,265.1 L551.9,264.6 L551.9,264.1 L551.9,263.2 L551.9,262.6 L551.9,261.9 L552.0,261.0 L552.0,260.3 L552.0,259.8 L552.0,258.8 L552.0,258.4 L552.0,257.5 L552.0,257.0 L552.1,256.2 L552.1,255.5 L552.1,254.9 L552.1,254.0 L552.1,253.4 L552.1,252.7 L552.2,252.1 L552.2,251.4 L552.2,250.6 L552.2,249.9 L552.2,249.1 L552.2,248.6 L552.3,247.8 L552.3,247.1 L552.3,246.4 L552.3,245.5 L552.3,244.9 L552.4,244.3 L552.4,243.6 L552.4,243.0 L552.4,241.9 L552.4,241.5 L552.5,240.9 L552.5,240.1 L552.5,239.5 L552.5,238.7 L552.6,238.0 L552.6,237.4 L552.6,236.4 L552.6,235.6 L552.7,235.2 L552.7,234.5 L552.7,233.8 L552.7,233.1 L552.8,232.5 L552.8,231.6 L552.8,231.0 L552.8,230.3 L552.9,229.4 L552.9,228.9 L552.9,228.2 L552.9,227.4 L553.0,226.9 L553.0,226.0 L553.0,225.5 L553.0,224.9 L553.1,223.8 L553.1,223.1 L553.1,222.6 L553.1,221.9 L553.2,221.2 L553.2,220.7 L553.2,219.7 L553.2,219.2 L553.3,218.3 L553.3,217.6 L553.3,217.0 L553.3,216.3 L553.4,215.7 L553.4,214.9 L553.4,214.3 L553.4,213.5 L553.5,212.6 L553.5,212.0 L553.5,211.3 L553.5,210.8 L553.6,209.8 L553.6,209.3 L553.6,208.5 L553.6,207.7 L553.6,207.2 L553.7,206.5 L553.7,205.7 L553.7,205.2 L553.7,204.4 L553.8,203.7 L553.8,202.9 L553.8,202.2 L553.8,201.6 L553.8,200.9 L553.9,200.0 L553.9,199.4 L553.9,198.8 L553.9,198.2 L554.0,197.5 L554.0,196.5 L554.0,196.0 L554.0,195.1 L554.0,194.5 L554.1,193.8 L554.1,193.3 L554.1,192.5 L554.1,191.8 L554.2,191.0 L554.2,190.5 L554.2,189.6 L554.2,189.0 L554.2,188.4 L554.3,187.5 L554.3,186.9 L554.3,185.9 L554.3,185.5 L554.3,184.5 L554.3,184.1 L554.4,183.4 L554.4,182.7 L554.4,182.2 L554.4,180.9 L554.4,180.6 L554.5,179.8 L554.5,179.2 L554.5,178.5 L554.5,177.8 L554.5,177.0 L554.5,176.3 L554.5,175.7 L554.6,174.8 L554.6,174.4 L554.6,173.5 L554.6,172.9 L554.6,172.0 L554.6,171.5 L554.6,170.7 L554.7,170.1 L554.7,169.5 L554.7,168.6 L554.7,167.9 L554.7,167.3 L554.7,166.7 L554.7,165.7 L554.8,165.2 L554.8,164.4 L554.8,163.6 L554.8,163.0 L554.8,162.2 L554.8,161.8 L554.8,160.8 L554.9,160.3 L554.9,159.5 L554.9,158.9 L554.9,157.9 L554.9,157.3 L554.9,156.7 L554.9,155.9 L555.0,155.1 L555.0,154.6 L555.0,154.0 L555.0,153.2 L555.0,152.5 L555.1,151.9 L555.1,151.1 L555.1,150.5 L555.1,149.8 L555.1,148.9 L555.1,148.4 L555.2,147.7 L555.2,146.9 L555.2,146.3 L555.2,145.7 L555.2,145.0 L555.3,144.3 L555.3,143.4 L555.3,142.9 L555.3,141.8 L555.4,141.4 L555.4,140.7 L555.4,140.0 L555.4,139.1 L555.4,138.7 L555.5,138.0 L555.5,137.1 L555.5,136.2 L555.5,135.7 L555.6,134.9 L555.6,134.1 L555.6,133.5 L555.6,133.2 L555.6,132.0 L555.7,131.5 L555.7,130.8 L555.7,130.2 L555.7,129.3 L555.8,128.6 L555.8,128.1 L555.8,127.3 L555.8,126.7 L555.9,125.7 L555.9,125.2 L555.9,124.6 L555.9,123.8 L556.0,123.0 L556.0,122.4 L556.0,121.5 L556.1,120.9 L556.1,120.4 L556.1,119.7 L556.1,118.9 L556.2,118.3 L556.2,117.3 L556.2,116.7 L556.2,116.2 L556.3,115.7 L556.3,114.7 L556.3,113.9 L556.4,113.2 L556.4,112.7 L556.4,112.0 L556.4,111.0 L556.5,110.5 L556.5,109.9 L556.5,109.2 L556.6,108.3 L556.6,107.7 L556.6,107.0 L556.7,106.1 L556.7,105.4 L556.7,104.8 L556.8,104.3 L556.8,103.6 L556.9,102.8 L556.9,101.9 L556.9,101.1 L557.0,100.5 L557.0,100.0 L557.1,99.4 L557.1,98.5 L557.2,97.9 L557.2,97.0 L557.2,96.2 L557.3,95.8 L557.3,94.9 L557.4,94.2 L557.4,93.4 L557.5,93.1 L557.6,92.0 L557.6,91.6 L557.7,90.7 L557.7,90.1 L557.8,89.6 L557.9,88.8 L558.0,88.1 L558.0,87.5 L558.1,86.7 L558.2,86.2 L558.3,85.1 L558.4,84.7 L558.5,83.9 L558.6,83.0 L558.7,82.5 L558.9,81.8 L559.0,81.1 L559.2,80.5 L559.5,79.6 L559.8,78.9 L560.2,78.4 L560.7,78.3 L561.2,78.5 L561.6,79.1 L562.1,79.8 L562.6,80.5 L563.1,81.0 L563.7,80.7 L564.3,80.4 L564.9,80.1 L565.6,79.7 L566.3,79.4 L566.9,79.6 L567.6,79.5 L568.3,79.4 L569.0,79.4 L569.7,79.9 L570.4,79.9 L571.1,80.0 L571.8,80.1 L572.6,80.3 L573.4,80.4 L574.1,80.5 L574.7,80.4 L575.1,80.2 L575.5,79.8 L575.8,78.9 L576.0,78.1 L576.3,77.3 L576.6,76.6 L577.0,76.1 L577.5,76.1 L578.1,76.5 L578.7,77.1 L579.2,77.6 L579.6,78.3 L580.0,78.9 L580.3,79.5 L580.7,80.2 L581.0,80.6 L581.4,81.3 L581.8,81.9 L582.3,82.4 L582.8,82.8 L583.4,83.3 L584.0,84.0 L584.6,84.4 L585.2,84.6 L585.8,84.7 L586.5,84.6 L587.2,84.7 L588.0,84.7 L588.8,84.8 L589.5,84.8 L590.2,84.7 L590.8,84.9 L591.3,84.6 L591.7,84.3 L592.1,83.8 L592.5,83.0 L592.9,82.4 L593.3,81.7 L593.7,81.0 L594.1,80.4 L594.5,79.8 L594.9,79.1 L595.4,78.4 L595.8,77.9 L596.3,77.0 L596.8,76.5 L597.3,75.8 L597.8,75.4 L598.3,75.0 L598.8,74.9 L599.4,75.2 L599.9,75.3 L600.6,75.8 L601.2,76.0 L601.8,76.4 L602.4,76.8 L603.0,77.2 L603.6,77.5 L604.2,78.2 L604.8,78.6 L605.4,78.9 L606.0,79.2 L606.6,79.6 L607.3,79.7 L607.9,79.8 L608.6,79.4 L609.3,79.4 L610.0,79.2 L610.7,79.3 L611.4,79.0 L612.1,79.2 L612.8,79.1 L613.5,79.3 L614.1,79.3 L614.8,79.2 L615.5,79.0 L616.1,78.5 L616.7,78.4 L617.4,77.9 L618.0,78.0 L618.7,77.9 L619.3,78.1 L620.0,78.6 L620.7,78.7 L621.3,79.3 L622.0,79.3 L622.6,79.6 L623.3,80.2 L623.9,80.0 L624.6,80.5 L625.2,80.9 L625.8,81.3 L626.5,81.3 L627.1,82.0 L627.8,82.0 L628.4,82.1 L629.1,82.6 L629.7,82.6 L630.4,82.8 L631.1,83.0 L631.8,82.9 L632.5,83.1 L633.2,83.2 L633.9,83.4 L634.6,83.2 L635.3,83.7 L636.0,83.6 L636.7,83.6 L637.4,83.8 L638.0,84.1 L638.7,84.4 L639.4,84.7 L640.0,85.1 L640.7,85.3 L641.3,85.7 L641.9,85.4 L642.5,85.7 L643.1,85.3 L643.7,85.0 L644.3,84.3 L644.8,83.7 L645.4,83.3 L646.0,83.1 L646.7,82.9 L647.3,82.9 L648.0,82.7 L648.7,82.8 L649.4,82.9 L650.1,82.7 L650.8,82.6 L651.6,82.3 L652.3,82.5 L653.0,82.5 L653.7,82.2 L654.4,82.3 L655.1,81.8 L655.7,81.9 L656.4,81.7 L657.1,81.8 L657.8,81.5 L658.5,81.4 L659.2,81.6 L659.9,81.1 L660.6,81.3 L661.3,81.3 L662.0,81.1 L662.7,80.9 L663.4,81.0" stroke="#ff2200" stroke-width="3.0"/>
<path transform="scale(1,1.08)" d="M270.4,540.3 L271.1,540.2 L271.8,540.7 L272.5,540.3 L273.2,539.7 L273.9,540.1 L274.6,539.9 L275.3,540.1 L276.0,539.5 L276.7,540.0 L277.4,540.0 L278.1,540.3 L278.8,539.9 L279.5,539.9 L280.2,539.3 L280.9,540.3 L281.6,539.2 L282.3,540.0 L283.0,539.5 L283.7,539.3 L284.4,539.4 L285.1,539.3 L285.8,539.6 L286.5,539.4 L287.2,539.8 L287.9,538.9 L288.6,539.4 L289.3,539.1 L290.0,539.5 L290.7,538.7 L291.4,539.2 L292.1,539.3 L292.8,538.8 L293.5,539.5 L294.2,539.2 L294.9,539.4 L295.6,539.4 L296.3,538.8 L297.0,538.8 L297.7,539.0 L298.4,539.2 L299.1,539.2 L299.8,538.8 L300.5,538.7 L301.2,538.7 L301.9,538.7 L302.6,538.7 L303.3,538.7 L304.0,539.2 L304.7,538.5 L305.4,538.5 L306.1,538.6 L306.8,538.2 L307.5,538.2 L308.2,538.3 L308.9,538.4 L309.6,537.8 L310.3,538.5 L311.0,537.9 L311.7,538.0 L312.4,538.1 L313.1,538.0 L313.8,538.1 L314.5,537.8 L315.2,537.6 L315.9,537.7 L316.6,537.3 L317.3,537.8 L318.0,537.2 L318.7,537.1 L319.4,537.9 L320.1,537.3 L320.8,536.9 L321.5,537.7 L322.2,537.0 L322.9,537.4 L323.6,536.8 L324.3,536.8 L325.0,536.4 L325.7,536.2 L326.3,536.4 L327.0,536.5 L327.6,536.5 L328.3,536.7 L328.9,535.5 L329.6,535.8 L330.2,535.0 L330.8,534.8 L331.4,534.1 L332.1,533.8 L332.7,533.7 L333.3,533.3 L334.0,533.3 L334.6,532.9 L335.3,533.2 L335.9,532.7 L336.6,532.5 L337.3,532.6 L337.9,532.3 L338.6,531.9 L339.3,531.7 L340.0,531.5 L340.7,531.7 L341.3,531.5 L342.0,531.2 L342.7,531.2 L343.4,530.6 L344.1,530.8 L344.8,530.1 L345.4,530.7 L346.1,530.2 L346.8,530.1 L347.5,530.1 L348.2,529.8 L348.9,529.6 L349.6,529.8 L350.2,529.4 L350.9,529.0 L351.6,529.2 L352.3,528.5 L353.0,529.3 L353.7,528.7 L354.4,528.6 L355.1,529.1 L355.8,529.0 L356.4,528.3 L357.1,528.3 L357.8,528.3 L358.5,528.4 L359.2,527.8 L359.9,527.8 L360.6,528.1 L361.3,527.7 L362.0,527.8 L362.7,527.7 L363.4,527.1 L364.1,527.1 L364.8,526.6 L365.5,527.2 L366.2,527.6 L366.9,526.9 L367.6,527.5 L368.3,527.4 L369.0,527.0 L369.7,527.0 L370.4,527.1 L371.1,526.8 L371.8,527.1 L372.4,527.3 L373.1,527.7 L373.8,528.0 L374.4,527.9 L375.1,528.6 L375.8,528.4 L376.4,528.8 L377.1,529.2 L377.8,529.2 L378.5,529.3 L379.1,529.4 L379.8,529.2 L380.5,529.1 L381.2,529.2 L381.9,529.4 L382.6,529.1 L383.3,529.5 L384.0,528.9 L384.7,527.9 L385.3,528.5 L386.0,528.9 L386.7,528.3 L387.4,528.1 L388.1,527.8 L388.8,528.3 L389.5,528.1 L390.2,527.8 L390.9,527.6 L391.6,527.8 L392.3,527.5 L393.0,526.8 L393.7,527.2 L394.3,526.9 L395.0,526.7 L395.7,526.9 L396.4,526.5 L397.1,525.6 L397.8,526.7 L398.5,526.4 L399.2,525.9 L399.8,525.7 L400.5,525.8 L401.2,525.2 L401.9,525.5 L402.6,525.2 L403.3,525.0 L403.9,524.7 L404.6,524.7 L405.3,525.0 L406.0,524.9 L406.7,524.6 L407.4,524.3 L408.0,523.9 L408.7,524.2 L409.4,524.3 L410.1,523.2 L410.8,523.9 L411.5,522.8 L412.2,523.1 L412.8,523.2 L413.5,522.5 L414.2,522.3 L414.9,522.6 L415.5,522.7 L416.2,522.1 L416.9,522.4 L417.6,521.7 L418.2,522.2 L418.9,521.5 L419.6,521.4 L420.3,521.3 L420.9,521.0 L421.6,521.2 L422.3,521.1 L423.0,520.4 L423.7,520.0 L424.3,519.5 L425.0,519.4 L425.7,519.4 L426.3,519.1 L426.9,518.8 L427.6,518.6 L428.2,518.4 L428.7,517.6 L429.3,517.4 L429.9,517.6 L430.4,517.2 L431.0,516.4 L431.5,516.5 L432.0,515.5 L432.6,515.1 L433.1,514.2 L433.5,514.4 L434.0,513.7 L434.5,513.5 L434.9,512.8 L435.3,512.1 L435.6,511.7 L436.0,511.4 L436.3,510.5 L436.7,509.9 L437.0,509.4 L437.3,509.1 L437.7,508.5 L438.0,508.2 L438.2,507.0 L438.5,506.8 L438.8,505.7 L439.1,505.4 L439.3,504.6 L439.6,504.5 L439.8,503.5 L440.1,502.6 L440.3,502.3 L440.5,501.6 L440.7,500.8 L441.0,500.2 L441.2,499.4 L441.4,499.8 L441.6,498.5 L441.7,498.1 L441.9,496.9 L442.1,496.3 L442.3,495.9 L442.5,495.2 L442.6,494.9 L442.8,493.7 L442.9,493.5 L443.1,493.2 L443.2,491.9 L443.4,491.7 L443.5,490.6 L443.7,490.3 L443.8,489.7 L444.0,489.4 L444.1,488.1 L444.2,487.7 L444.3,487.3 L444.5,486.1 L444.6,485.7 L444.7,484.9 L444.8,484.3 L444.9,484.0 L445.0,483.4 L445.1,483.2 L445.2,482.3 L445.3,481.6 L445.4,480.6 L445.5,479.9 L445.6,479.4 L445.7,478.0 L445.7,478.5 L445.8,477.2 L445.9,476.4 L446.0,476.0 L446.0,475.7 L446.1,475.1 L446.2,474.0 L446.2,473.6 L446.3,472.8 L446.3,471.9 L446.4,471.6 L446.5,470.9 L446.5,469.8 L446.6,469.9 L446.6,468.5 L446.7,468.4 L446.7,467.4 L446.8,466.8 L446.8,466.2 L446.9,465.9 L446.9,464.7 L447.0,464.4 L447.0,464.2 L447.1,462.9 L447.1,462.5 L447.2,462.0 L447.2,461.0 L447.2,460.7 L447.3,459.7 L447.3,459.4 L447.4,458.6 L447.4,457.7 L447.4,457.7 L447.5,456.6 L447.5,455.9 L447.5,455.1 L447.6,454.6 L447.6,454.0 L447.6,453.5 L447.7,453.1 L447.7,451.7 L447.7,451.4 L447.8,451.1 L447.8,450.2 L447.8,449.6 L447.9,449.3 L447.9,448.3 L447.9,447.7 L447.9,446.9 L448.0,446.8 L448.0,445.9 L448.0,444.8 L448.1,444.5 L448.1,443.4 L448.1,443.3 L448.1,442.6 L448.2,441.7 L448.2,441.0 L448.2,439.9 L448.2,440.0 L448.3,439.1 L448.3,438.4 L448.3,438.0 L448.3,437.0 L448.4,436.4 L448.4,435.7 L448.4,434.9 L448.4,435.3 L448.5,433.9 L448.5,433.2 L448.5,432.9 L448.5,431.1 L448.6,431.3 L448.6,430.7 L448.6,429.8 L448.7,429.5 L448.7,428.2 L448.7,428.1 L448.8,427.7 L448.8,426.2 L448.8,425.7 L448.8,425.4 L448.9,424.8 L448.9,424.0 L448.9,423.6 L449.0,422.9 L449.0,421.9 L449.0,421.5 L449.1,420.6 L449.1,419.7 L449.2,419.0 L449.2,419.3 L449.2,418.3 L449.3,418.2 L449.3,416.6 L449.4,416.3 L449.4,415.8 L449.5,415.0 L449.5,414.6 L449.6,413.8 L449.6,413.0 L449.7,411.9 L449.7,411.6 L449.8,411.7 L449.9,410.8 L449.9,410.3 L450.0,409.1 L450.1,408.6 L450.1,407.7 L450.2,407.4 L450.3,406.7 L450.3,406.2 L450.4,405.9 L450.4,404.5 L450.5,404.3 L450.5,403.1 L450.6,403.1 L450.6,402.0 L450.7,401.5 L450.7,400.9 L450.8,400.7 L450.8,399.6 L450.9,398.8 L450.9,397.9 L450.9,397.7 L451.0,396.7 L451.0,396.2 L451.1,395.7 L451.1,395.2 L451.1,394.2 L451.2,393.9 L451.2,393.6 L451.2,392.0 L451.3,392.2 L451.3,391.7 L451.3,390.3 L451.4,390.0 L451.4,388.8 L451.4,388.6 L451.5,387.8 L451.5,387.3 L451.5,386.3 L451.6,385.7 L451.6,385.2 L451.6,384.5 L451.6,383.8 L451.7,383.3 L451.7,382.4 L451.7,382.0 L451.8,381.5 L451.8,380.1 L451.8,380.2 L451.8,379.3 L451.9,378.5 L451.9,377.8 L451.9,377.3 L452.0,376.7 L452.0,376.3 L452.0,375.2 L452.0,375.2 L452.1,374.0 L452.1,373.8 L452.1,373.3 L452.1,372.0 L452.2,372.0 L452.2,371.6 L452.2,370.3 L452.2,369.9 L452.3,369.1 L452.3,368.5 L452.3,367.7 L452.3,367.0 L452.4,366.7 L452.4,366.1 L452.4,365.2 L452.4,365.0 L452.5,364.2 L452.5,363.5 L452.5,362.4 L452.5,362.5 L452.5,361.7 L452.6,360.1 L452.6,359.7 L452.6,359.2 L452.6,359.0 L452.7,358.4 L452.7,357.4 L452.7,356.9 L452.7,356.3 L452.8,355.1 L452.8,355.0 L452.8,354.1 L452.8,353.6 L452.9,352.9 L452.9,351.9 L452.9,351.3 L452.9,351.0 L453.0,350.3 L453.0,349.6 L453.0,349.3 L453.0,348.3 L453.1,347.4 L453.1,347.0 L453.1,346.4 L453.1,345.7 L453.2,345.4 L453.2,344.6 L453.2,344.1 L453.2,343.3 L453.3,342.5 L453.3,342.2 L453.3,341.1 L453.3,340.6 L453.4,339.6 L453.4,339.3 L453.4,338.5 L453.4,338.1 L453.5,337.8 L453.5,337.3 L453.5,336.3 L453.5,335.4 L453.6,335.0 L453.6,334.1 L453.6,333.3 L453.7,332.8 L453.7,332.1 L453.7,331.3 L453.7,331.2 L453.8,330.0 L453.8,329.4 L453.8,329.1 L453.8,328.0 L453.9,327.3 L453.9,326.7 L453.9,326.4 L453.9,325.8 L454.0,325.1 L454.0,324.2 L454.0,323.4 L454.0,323.3 L454.1,322.0 L454.1,321.7 L454.1,320.7 L454.2,320.3 L454.2,319.8 L454.2,319.5 L454.2,317.7 L454.3,318.2 L454.3,317.0 L454.3,316.6 L454.3,316.1 L454.4,315.1 L454.4,314.6 L454.4,314.1 L454.4,313.3 L454.5,312.5 L454.5,312.1 L454.5,311.4 L454.5,310.3 L454.6,310.5 L454.6,309.5 L454.6,308.1 L454.6,307.9 L454.7,308.0 L454.7,307.3 L454.7,306.3 L454.8,305.1 L454.8,304.8 L454.8,304.5 L454.8,303.7 L454.9,302.9 L454.9,302.1 L454.9,301.9 L454.9,300.9 L455.0,300.4 L455.0,299.8 L455.0,299.5 L455.0,298.5 L455.1,297.8 L455.1,296.6 L455.1,296.8 L455.1,296.1 L455.2,295.2 L455.2,293.9 L455.2,293.7 L455.3,293.2 L455.3,293.1 L455.3,292.1 L455.3,291.5 L455.4,290.8 L455.4,290.3 L455.4,289.0 L455.4,288.4 L455.5,287.7 L455.5,287.3 L455.5,286.6 L455.5,286.1 L455.6,285.1 L455.6,284.8 L455.6,283.9 L455.7,284.1 L455.7,282.7 L455.7,282.9 L455.7,282.0 L455.8,280.6 L455.8,280.5 L455.8,279.8 L455.9,278.5 L455.9,278.5 L455.9,277.6 L455.9,277.1 L456.0,276.1 L456.0,275.7 L456.0,275.2 L456.1,274.3 L456.1,273.6 L456.1,273.1 L456.1,272.2 L456.2,271.9 L456.2,270.4 L456.2,270.9 L456.2,269.9 L456.3,269.3 L456.3,268.8 L456.3,267.6 L456.3,267.9 L456.4,266.3 L456.4,266.1 L456.4,265.4 L456.4,265.0 L456.5,264.0 L456.5,263.0 L456.5,262.8 L456.5,261.4 L456.5,261.4 L456.6,260.6 L456.6,260.6 L456.6,259.4 L456.6,258.7 L456.6,258.0 L456.6,257.3 L456.7,256.7 L456.7,256.4 L456.7,255.2 L456.7,254.9 L456.7,253.9 L456.8,253.6 L456.8,253.0 L456.8,252.0 L456.8,251.5 L456.9,251.1 L456.9,250.6 L456.9,250.0 L456.9,249.1 L456.9,248.2 L457.0,247.3 L457.0,247.4 L457.0,246.9 L457.1,245.9 L457.1,245.6 L457.1,244.4 L457.1,243.8 L457.2,243.7 L457.2,242.3 L457.2,242.1 L457.3,241.4 L457.3,240.7 L457.4,240.5 L457.4,239.1 L457.4,238.6 L457.5,237.5 L457.5,237.1 L457.5,236.6 L457.6,236.0 L457.6,235.4 L457.7,234.9 L457.7,234.0 L457.7,233.0 L457.8,232.9 L457.8,232.3 L457.9,231.2 L457.9,230.7 L457.9,230.8 L458.0,229.9 L458.0,229.3 L458.0,228.5 L458.1,227.7 L458.1,226.9 L458.1,226.5 L458.2,225.7 L458.2,225.0 L458.2,224.4 L458.3,223.8 L458.3,223.4 L458.3,222.2 L458.3,222.5 L458.4,220.9 L458.4,220.4 L458.4,220.2 L458.4,219.0 L458.5,218.5 L458.5,218.0 L458.5,216.5 L458.5,216.5 L458.6,215.7 L458.6,215.3 L458.6,214.8 L458.6,214.2 L458.7,213.8 L458.7,213.2 L458.7,212.4 L458.7,211.5 L458.8,211.1 L458.8,209.9 L458.8,209.5 L458.8,209.3 L458.9,208.4 L458.9,207.2 L458.9,206.8 L458.9,206.5 L458.9,205.8 L459.0,205.3 L459.0,203.8 L459.0,203.3 L459.0,203.0 L459.1,202.1 L459.1,201.7 L459.1,201.1 L459.1,200.5 L459.2,199.8 L459.2,199.3 L459.2,198.7 L459.2,197.9 L459.3,196.9 L459.3,196.9 L459.3,196.0 L459.3,195.4 L459.4,194.6 L459.4,193.5 L459.4,193.5 L459.4,192.5 L459.5,191.7 L459.5,191.7 L459.5,190.6 L459.5,190.1 L459.6,189.7 L459.6,189.2 L459.6,187.6 L459.6,187.3 L459.7,187.0 L459.7,186.0 L459.7,184.6 L459.7,184.9 L459.8,184.3 L459.8,183.8 L459.8,183.0 L459.8,182.1 L459.9,181.7 L459.9,181.0 L459.9,180.2 L459.9,179.7 L460.0,179.1 L460.0,178.1 L460.0,178.0 L460.1,177.3 L460.1,176.7 L460.1,175.0 L460.1,175.2 L460.2,174.5 L460.2,173.6 L460.2,173.3 L460.2,172.1 L460.3,172.2 L460.3,171.3 L460.3,170.5 L460.4,170.3 L460.4,169.4 L460.4,168.7 L460.4,167.6 L460.5,167.5 L460.5,167.1 L460.5,166.4 L460.6,165.0 L460.6,165.1 L460.6,164.6 L460.6,163.7 L460.7,162.7 L460.7,161.7 L460.7,161.3 L460.8,160.7 L460.8,160.3 L460.8,159.7 L460.8,158.7 L460.9,157.8 L460.9,157.5 L460.9,156.6 L461.0,156.7 L461.0,155.3 L461.0,155.1 L461.1,154.6 L461.1,153.4 L461.1,153.3 L461.2,152.4 L461.2,151.5 L461.2,150.9 L461.3,150.5 L461.3,150.1 L461.3,148.6 L461.4,148.7 L461.4,147.8 L461.4,147.0 L461.5,146.5 L461.5,145.9 L461.5,145.3 L461.6,144.9 L461.6,143.7 L461.6,143.9 L461.7,142.9 L461.7,141.9 L461.8,140.9 L461.8,140.7 L461.9,140.0 L461.9,139.7 L461.9,139.0 L462.0,138.7 L462.0,137.5 L462.1,137.1 L462.1,136.1 L462.2,135.5 L462.2,135.3 L462.3,134.2 L462.3,133.6 L462.4,132.9 L462.4,132.4 L462.5,131.8 L462.5,131.0 L462.6,130.1 L462.6,129.8 L462.7,128.9 L462.7,128.3 L462.8,127.9 L462.8,127.2 L462.9,125.9 L463.0,126.3 L463.0,125.4 L463.1,125.1 L463.1,124.6 L463.2,123.0 L463.3,122.5 L463.3,122.0 L463.4,121.6 L463.4,120.5 L463.5,119.9 L463.6,119.7 L463.6,118.5 L463.7,118.1 L463.7,117.7 L463.8,116.7 L463.9,116.4 L463.9,115.5 L464.0,114.4 L464.1,114.1 L464.1,113.5 L464.2,112.8 L464.3,112.3 L464.3,111.7 L464.4,111.0 L464.5,110.4 L464.5,109.5 L464.6,109.0 L464.7,108.3 L464.8,107.6 L464.8,107.5 L464.9,105.9 L465.0,105.8 L465.1,104.7 L465.2,104.3 L465.2,104.1 L465.3,103.1 L465.4,102.9 L465.5,101.6 L465.6,101.2 L465.7,100.4 L465.8,100.0 L465.9,99.2 L466.0,98.6 L466.1,98.1 L466.2,97.7 L466.3,96.8 L466.5,96.1 L466.6,95.4 L466.7,94.6 L466.9,93.8 L467.0,93.2 L467.2,92.9 L467.3,91.7 L467.5,91.8 L467.7,90.9 L467.8,90.1 L468.0,89.6 L468.2,89.3 L468.5,88.6 L468.7,88.0 L469.0,87.8 L469.3,87.3 L469.6,85.7 L469.9,85.7 L470.3,84.7 L470.7,84.0 L471.1,83.8 L471.5,83.8 L472.1,83.1 L472.7,82.6 L473.4,82.8 L474.0,82.3 L474.7,81.9 L475.4,82.3 L476.0,81.9 L476.7,81.5 L477.4,81.3 L478.1,81.5 L478.8,81.6 L479.5,81.8 L480.2,81.7 L480.9,81.5 L481.7,81.1 L482.4,81.7 L483.1,81.4 L483.8,81.1 L484.5,81.0 L485.2,81.5 L485.9,81.5 L486.6,81.6 L487.3,81.1 L488.0,82.0 L488.7,80.9 L489.4,81.5 L490.1,81.9 L490.8,81.8 L491.5,81.3 L492.2,81.8 L492.9,82.0 L493.6,81.9 L494.3,81.6 L495.0,82.6 L495.6,81.9 L496.2,82.7 L496.7,82.8 L497.2,83.5 L497.7,84.0 L498.1,84.8 L498.6,84.8 L499.1,85.6 L499.7,86.2 L500.4,86.1 L501.1,86.5 L501.8,86.7 L502.4,86.4 L503.0,86.4 L503.6,86.2 L504.2,85.8 L504.7,85.7 L505.1,85.1 L505.4,83.8 L505.6,83.1 L505.9,82.3 L506.3,81.6 L506.8,82.4 L507.5,82.1 L508.3,81.2 L509.0,81.7 L509.7,82.4 L510.4,81.8 L511.1,81.8 L511.8,81.7 L512.5,81.4 L513.2,81.3 L513.9,81.4 L514.6,81.7 L515.3,81.5 L516.0,81.8 L516.7,82.1 L517.4,81.8 L518.1,81.8 L518.8,81.5 L519.5,81.2 L520.2,82.2 L520.9,81.8 L521.6,81.9 L522.3,81.4 L523.1,81.0 L523.8,81.9 L524.5,80.9 L525.2,81.4 L525.9,81.3 L526.6,81.5 L527.3,81.7 L528.0,81.7 L528.7,80.9 L529.4,81.7 L530.1,80.9 L530.8,81.6 L531.5,81.3 L532.2,81.1 L532.9,81.2 L533.6,81.0 L534.3,81.4 L535.0,81.6 L535.7,81.6 L536.4,81.4 L537.1,81.6 L537.8,81.5 L538.5,81.9 L539.2,81.4 L539.9,81.1 L540.6,81.2 L541.3,81.1 L542.0,81.2 L542.7,81.2 L543.4,81.4 L544.1,81.4 L544.8,81.2 L545.5,81.3 L546.2,81.0 L546.9,81.0 L547.6,80.4 L548.3,80.9 L549.0,81.0 L549.7,81.8 L550.4,80.7 L551.1,81.1 L551.8,80.9 L552.5,80.6 L553.2,81.1 L553.9,81.0 L554.6,80.5 L555.3,80.3 L556.0,80.9" stroke="#d6d400" stroke-width="3.0"/>
<path transform="scale(1,1.0)" d="M323.5,572.7 L324.1,572.7 L324.6,573.5 L325.2,574.2 L325.8,574.8 L326.4,574.9 L327.0,575.0 L327.6,575.3 L328.2,576.1 L328.9,576.7 L329.5,576.5 L330.1,576.2 L330.8,576.5 L331.4,577.6 L332.1,577.3 L332.8,576.8 L333.5,577.6 L334.2,577.4 L334.9,577.7 L335.6,577.9 L336.3,577.9 L337.0,578.5 L337.6,578.4 L338.3,578.3 L339.0,578.7 L339.7,578.9 L340.4,578.1 L341.1,578.7 L341.8,578.5 L342.5,578.8 L343.2,578.5 L343.9,579.0 L344.6,579.0 L345.3,578.9 L346.0,578.6 L346.7,578.8 L347.4,578.5 L348.1,578.4 L348.8,578.8 L349.5,578.3 L350.2,579.0 L350.9,578.7 L351.6,577.7 L352.3,578.4 L353.0,577.8 L353.7,578.1 L354.4,578.1 L355.1,577.3 L355.8,577.9 L356.5,577.9 L357.2,578.4 L357.9,577.6 L358.6,578.3 L359.3,577.8 L360.0,578.1 L360.7,578.0 L361.4,578.8 L362.1,578.6 L362.8,579.4 L363.5,578.8 L364.2,579.0 L364.9,579.1 L365.6,578.7 L366.3,579.0 L367.0,579.6 L367.6,579.1 L368.3,579.5 L369.0,579.6 L369.7,580.1 L370.3,580.0 L371.0,580.3 L371.7,580.7 L372.3,580.9 L373.0,580.8 L373.6,581.7 L374.3,581.1 L375.0,581.4 L375.7,581.5 L376.3,582.5 L377.0,582.1 L377.7,582.0 L378.4,582.1 L379.1,582.7 L379.8,582.3 L380.5,582.4 L381.2,583.1 L381.9,582.6 L382.6,583.0 L383.3,583.1 L384.0,583.0 L384.7,583.2 L385.4,583.7 L386.1,583.0 L386.8,582.7 L387.5,582.4 L388.2,582.8 L388.8,582.6 L389.5,582.7 L390.2,582.3 L390.9,582.1 L391.6,581.8 L392.3,581.7 L393.0,581.7 L393.6,581.4 L394.3,581.4 L395.0,581.8 L395.7,581.1 L396.4,580.2 L397.2,581.2 L397.9,580.5 L398.6,579.8 L399.2,580.2 L399.9,579.6 L400.5,579.1 L401.1,578.8 L401.6,578.4 L402.2,578.4 L402.6,578.4 L403.0,577.3 L403.4,577.0 L403.8,576.9 L404.2,575.2 L404.6,575.0 L404.9,574.2 L405.3,573.3 L405.8,572.8 L406.2,572.7 L406.8,572.4 L407.3,571.6 L407.8,571.4 L408.4,571.2 L409.0,570.6 L409.6,570.4 L410.2,569.9 L410.9,569.6 L411.5,569.7 L412.1,569.0 L412.7,568.5 L413.3,568.4 L414.0,567.6 L414.6,567.5 L415.3,567.6 L415.9,567.3 L416.6,567.4 L417.2,566.6 L417.9,565.8 L418.6,566.8 L419.3,566.3 L419.9,565.3 L420.6,566.0 L421.3,565.3 L422.0,564.4 L422.6,564.7 L423.3,564.5 L424.0,565.1 L424.6,564.1 L425.3,564.1 L426.0,563.9 L426.7,563.7 L427.4,563.4 L428.1,563.6 L428.8,563.8 L429.4,563.5 L430.1,562.8 L430.8,562.6 L431.5,562.9 L432.2,562.4 L432.9,562.3 L433.6,561.8 L434.2,562.9 L434.9,562.3 L435.6,561.5 L436.3,562.0 L437.0,562.0 L437.6,560.5 L438.3,560.9 L439.0,560.8 L439.7,561.0 L440.3,560.5 L441.0,560.3 L441.7,560.1 L442.4,560.6 L443.0,560.5 L443.7,559.3 L444.4,559.0 L445.0,560.0 L445.7,558.5 L446.4,558.5 L447.0,558.4 L447.7,558.4 L448.4,558.3 L449.0,557.9 L449.7,557.2 L450.4,557.5 L451.0,557.1 L451.7,557.5 L452.4,556.6 L453.0,555.9 L453.7,555.7 L454.4,556.3 L455.0,555.4 L455.7,554.5 L456.3,554.8 L456.9,554.7 L457.5,554.8 L458.1,553.7 L458.7,553.9 L459.3,553.6 L459.9,552.7 L460.5,552.5 L461.0,552.7 L461.6,552.3 L462.2,551.5 L462.7,550.9 L463.2,550.7 L463.7,549.7 L464.2,549.2 L464.7,548.5 L465.1,548.2 L465.5,547.7 L465.9,548.1 L466.4,546.5 L466.8,546.5 L467.2,545.9 L467.5,544.8 L467.9,544.6 L468.3,542.8 L468.6,543.0 L469.0,542.6 L469.3,540.9 L469.6,540.7 L469.9,540.8 L470.2,539.7 L470.5,538.8 L470.7,538.4 L471.0,537.7 L471.2,537.5 L471.4,536.7 L471.7,535.8 L471.9,535.0 L472.1,534.6 L472.3,534.4 L472.5,533.3 L472.7,532.8 L472.9,531.8 L473.1,530.7 L473.3,530.2 L473.5,530.0 L473.6,529.2 L473.8,528.1 L474.0,527.2 L474.1,527.1 L474.3,526.3 L474.4,525.6 L474.6,524.9 L474.7,524.4 L474.9,523.8 L475.0,523.3 L475.1,522.6 L475.3,522.1 L475.4,521.2 L475.5,520.1 L475.7,519.5 L475.8,519.0 L475.9,518.0 L476.0,517.6 L476.1,517.1 L476.3,515.8 L476.4,514.7 L476.5,515.1 L476.6,514.0 L476.7,513.5 L476.8,512.1 L476.9,512.5 L477.0,511.5 L477.1,510.5 L477.2,509.7 L477.3,509.2 L477.4,508.4 L477.5,507.6 L477.6,506.6 L477.7,506.8 L477.8,505.6 L477.9,505.0 L478.0,504.3 L478.0,502.7 L478.1,503.0 L478.2,502.0 L478.3,501.4 L478.4,500.8 L478.5,499.7 L478.6,499.7 L478.6,498.4 L478.7,497.7 L478.8,497.0 L478.9,496.6 L479.0,496.2 L479.0,495.0 L479.1,494.0 L479.2,494.2 L479.3,492.7 L479.3,492.8 L479.4,491.7 L479.5,490.8 L479.6,490.1 L479.6,489.8 L479.7,489.2 L479.8,488.1 L479.8,487.8 L479.9,487.5 L480.0,486.0 L480.0,485.0 L480.1,484.4 L480.2,483.5 L480.2,483.1 L480.3,482.4 L480.4,481.5 L480.4,481.4 L480.5,479.6 L480.5,479.4 L480.6,479.8 L480.7,478.8 L480.7,477.9 L480.8,477.2 L480.8,477.0 L480.9,475.8 L480.9,475.0 L481.0,473.8 L481.1,473.5 L481.1,472.6 L481.2,471.9 L481.2,471.2 L481.3,470.7 L481.3,469.9 L481.4,469.7 L481.4,468.2 L481.5,467.9 L481.5,467.9 L481.6,466.6 L481.6,466.3 L481.7,465.5 L481.7,464.9 L481.8,464.0 L481.8,462.6 L481.9,462.3 L481.9,461.5 L482.0,460.4 L482.0,460.1 L482.1,459.1 L482.1,458.3 L482.2,458.2 L482.2,457.4 L482.3,456.5 L482.3,455.7 L482.4,455.2 L482.4,454.5 L482.5,453.8 L482.5,453.2 L482.6,452.4 L482.6,452.0 L482.7,451.3 L482.7,450.6 L482.8,449.5 L482.8,448.8 L482.9,448.5 L482.9,447.6 L483.0,446.9 L483.0,445.4 L483.1,444.6 L483.1,445.0 L483.2,444.3 L483.2,443.9 L483.3,443.0 L483.3,442.1 L483.4,441.4 L483.4,440.2 L483.5,440.3 L483.5,439.0 L483.6,438.7 L483.6,437.9 L483.7,437.3 L483.7,436.8 L483.8,435.6 L483.8,434.9 L483.9,434.1 L483.9,433.5 L483.9,433.5 L484.0,432.1 L484.0,432.0 L484.1,431.1 L484.1,430.4 L484.2,429.7 L484.2,428.4 L484.2,428.2 L484.3,427.9 L484.3,426.4 L484.4,425.9 L484.4,425.0 L484.4,424.7 L484.5,423.5 L484.5,423.7 L484.6,422.3 L484.6,421.2 L484.6,421.7 L484.7,420.7 L484.7,419.8 L484.7,419.1 L484.8,418.1 L484.8,417.5 L484.9,417.1 L484.9,416.5 L484.9,415.8 L485.0,414.8 L485.0,413.9 L485.1,413.3 L485.1,413.0 L485.1,412.5 L485.2,411.1 L485.2,410.4 L485.2,410.3 L485.3,409.4 L485.3,408.7 L485.3,407.3 L485.4,406.9 L485.4,406.2 L485.5,405.7 L485.5,404.4 L485.5,404.7 L485.6,403.7 L485.6,403.0 L485.6,401.7 L485.7,401.4 L485.7,401.2 L485.7,399.5" stroke="#ff935a" stroke-width="3.15"/>
<path transform="scale(1,1.35)" d="M485.7,295.9 L485.8,295.9 L485.8,295.5 L485.8,294.6 L485.9,294.5 L485.9,293.6 L485.9,293.6 L486.0,292.9 L486.0,292.2 L486.0,292.3 L486.1,291.4 L486.1,291.0 L486.1,289.7 L486.2,289.4 L486.2,289.3 L486.2,288.8 L486.3,288.0 L486.3,287.7 L486.3,286.7 L486.4,286.5 L486.4,285.6 L486.4,285.5 L486.5,284.8 L486.5,284.2 L486.5,283.9 L486.6,283.9 L486.6,282.5 L486.6,282.1 L486.7,282.1 L486.7,281.2 L486.7,281.3 L486.8,280.3 L486.8,279.7 L486.8,279.3 L486.9,279.2 L486.9,278.4 L486.9,277.8 L486.9,277.2 L487.0,276.1 L487.0,275.8 L487.0,276.0 L487.1,275.3 L487.1,274.7 L487.1,274.2 L487.2,273.3 L487.2,273.1 L487.2,272.2 L487.3,272.0 L487.3,271.2 L487.3,270.8 L487.3,270.5 L487.4,269.8 L487.4,269.5 L487.4,269.0 L487.5,268.4 L487.5,268.2 L487.5,266.8 L487.5,266.3 L487.6,266.4 L487.6,266.0 L487.6,265.8 L487.7,264.9 L487.7,264.4 L487.7,263.4 L487.7,263.3 L487.8,262.8 L487.8,261.8 L487.8,261.3 L487.9,261.0 L487.9,260.6 L487.9,259.1 L487.9,259.5 L488.0,259.0 L488.0,258.4 L488.0,258.0 L488.0,257.5 L488.1,256.6 L488.1,256.5 L488.1,255.8 L488.1,255.0 L488.2,254.9 L488.2,254.7 L488.2,253.3 L488.2,252.8 L488.3,252.2 L488.3,252.8 L488.3,251.6 L488.4,251.1 L488.4,250.4 L488.4,249.8 L488.4,249.0 L488.5,249.1 L488.5,248.6 L488.5,247.5 L488.5,247.2 L488.6,246.8 L488.6,246.5 L488.6,246.0 L488.6,245.8 L488.7,245.3 L488.7,244.7 L488.7,244.3 L488.7,243.0 L488.8,242.7 L488.8,242.7 L488.8,241.9 L488.8,241.3 L488.9,240.2 L488.9,239.7 L488.9,240.0 L488.9,239.3 L489.0,238.6 L489.0,238.1 L489.0,237.2 L489.0,237.3 L489.1,236.9 L489.1,236.6 L489.1,235.6 L489.1,235.0 L489.2,234.2 L489.2,234.4 L489.2,234.0 L489.2,232.8 L489.3,232.6 L489.3,232.0 L489.3,231.3 L489.3,230.2 L489.4,230.3 L489.4,230.1 L489.4,228.9 L489.4,228.6 L489.5,227.3 L489.5,228.2 L489.5,227.4 L489.6,226.8 L489.6,226.2 L489.6,225.5 L489.6,225.2 L489.7,224.6 L489.7,224.1 L489.7,223.6 L489.8,223.2 L489.8,223.1 L489.8,221.7 L489.8,221.6 L489.9,220.9 L489.9,220.2 L489.9,219.3 L490.0,219.7 L490.0,218.7 L490.0,218.2 L490.0,218.1 L490.1,217.1 L490.1,216.9 L490.1,216.4 L490.2,216.1 L490.2,215.6 L490.2,214.6 L490.2,214.6 L490.2,213.8 L490.3,213.3 L490.3,212.7 L490.3,212.5 L490.3,211.3 L490.3,211.3 L490.4,211.0 L490.4,210.1 L490.4,210.2 L490.4,208.9 L490.4,208.6 L490.4,207.9 L490.5,207.4 L490.5,206.7 L490.5,206.3 L490.5,206.0 L490.5,205.2 L490.5,205.2 L490.6,204.9 L490.6,203.5 L490.6,203.6 L490.6,202.9 L490.6,202.4 L490.6,202.6 L490.7,201.7 L490.7,200.9 L490.7,200.3 L490.7,199.1 L490.7,199.5 L490.8,198.5 L490.8,198.3 L490.8,197.7 L490.8,197.4 L490.8,197.2 L490.9,196.4 L490.9,196.0 L490.9,195.0 L490.9,194.7 L491.0,194.3 L491.0,193.1 L491.0,193.6 L491.1,192.3 L491.1,191.6 L491.1,191.9 L491.2,191.6 L491.2,190.2 L491.2,189.7 L491.2,190.3 L491.3,188.9 L491.3,187.7 L491.3,187.6 L491.4,187.9 L491.4,187.0 L491.4,186.5 L491.5,186.1 L491.5,185.4 L491.5,184.6 L491.6,183.7 L491.6,183.8 L491.6,182.8 L491.7,182.6 L491.7,182.6 L491.7,181.7 L491.7,181.1 L491.8,180.6 L491.8,180.2 L491.8,179.8 L491.9,178.6 L491.9,178.5 L491.9,178.5 L491.9,177.7 L492.0,176.7 L492.0,176.2 L492.0,175.3 L492.0,175.1 L492.1,175.3 L492.1,174.3 L492.1,173.5 L492.1,173.1 L492.2,172.7 L492.2,172.2 L492.2,171.6 L492.2,171.0 L492.3,170.9 L492.3,170.6 L492.3,169.5 L492.3,169.0 L492.3,169.0 L492.4,167.7 L492.4,167.4 L492.4,166.9 L492.4,166.6 L492.5,165.9 L492.5,165.2 L492.5,165.1 L492.5,164.1 L492.6,163.4 L492.6,162.8 L492.6,163.1 L492.6,161.9 L492.7,162.0 L492.7,161.5 L492.7,161.1 L492.7,160.2 L492.8,159.6 L492.8,159.3 L492.8,158.6 L492.8,157.8 L492.9,158.1 L492.9,156.9 L492.9,157.2 L492.9,156.3 L493.0,155.5 L493.0,155.2 L493.0,155.0 L493.0,153.7 L493.1,153.3 L493.1,152.7 L493.1,152.6 L493.1,152.1 L493.2,151.5 L493.2,150.7 L493.2,150.3 L493.3,150.3 L493.3,149.7 L493.3,148.9 L493.3,148.0 L493.4,148.0 L493.4,147.4 L493.4,146.9 L493.5,146.8 L493.5,146.0 L493.5,145.0 L493.5,144.4 L493.6,144.6 L493.6,143.7 L493.6,143.4 L493.7,142.6 L493.7,141.8 L493.7,141.7 L493.7,141.6 L493.8,140.7 L493.8,139.7 L493.8,139.5 L493.9,138.9 L493.9,138.6 L493.9,138.3 L494.0,138.1 L494.0,137.0 L494.0,136.3 L494.0,135.9 L494.1,135.4 L494.1,134.8 L494.1,134.4 L494.2,133.8 L494.2,133.0 L494.2,133.0 L494.2,132.2 L494.3,131.5 L494.3,131.4 L494.3,130.6 L494.4,130.7 L494.4,129.8 L494.4,129.2 L494.4,128.4 L494.5,128.0 L494.5,127.9 L494.5,126.9 L494.6,126.8 L494.6,125.4 L494.6,125.6 L494.7,125.3 L494.7,124.6 L494.7,124.0 L494.7,123.8 L494.8,122.7 L494.8,122.1 L494.8,121.9 L494.9,121.7 L494.9,121.0 L494.9,120.3 L495.0,119.9 L495.0,119.4 L495.0,118.4 L495.0,117.4 L495.1,117.4 L495.1,116.8 L495.1,116.5 L495.2,115.8 L495.2,115.4 L495.2,115.3 L495.3,114.7 L495.3,114.1 L495.3,114.1 L495.4,112.9 L495.4,112.5 L495.4,112.4 L495.5,111.2 L495.5,110.5 L495.5,110.9 L495.5,110.1 L495.6,109.6 L495.6,109.1 L495.6,108.7 L495.7,107.8 L495.7,107.4 L495.7,106.5 L495.8,106.4 L495.8,105.9 L495.8,105.2 L495.9,105.0 L495.9,105.1 L495.9,103.4 L495.9,103.5 L496.0,103.0 L496.0,102.5 L496.0,101.4 L496.1,101.5 L496.1,100.8 L496.1,100.1 L496.2,99.5 L496.2,99.2 L496.2,98.8 L496.3,98.3 L496.3,98.2 L496.3,96.9 L496.4,96.7 L496.4,95.8 L496.5,95.7 L496.5,95.0 L496.5,94.2 L496.6,93.5 L496.6,93.2 L496.6,92.9 L496.7,92.8 L496.7,92.1 L496.7,91.0 L496.8,90.6 L496.8,90.3 L496.9,89.7 L496.9,89.2 L496.9,88.9 L497.0,88.2 L497.0,87.4 L497.1,86.6 L497.1,86.5 L497.1,85.6 L497.2,85.5 L497.2,85.1 L497.3,84.1 L497.3,84.0 L497.3,83.4 L497.4,83.5 L497.4,82.6 L497.5,81.3 L497.5,81.5 L497.5,81.0 L497.6,80.3 L497.6,79.7 L497.7,79.5 L497.7,79.0 L497.8,78.4 L497.8,77.5 L497.9,77.2 L498.0,76.2 L498.0,75.7 L498.1,75.5 L498.1,74.8 L498.2,74.5 L498.3,74.9 L498.3,73.7 L498.4,72.8 L498.5,71.9 L498.5,71.8 L498.6,71.1 L498.7,70.3 L498.8,70.7 L498.9,69.8 L499.0,69.5 L499.1,69.8 L499.3,68.5 L499.4,67.9 L499.5,67.5 L499.7,66.8 L499.9,66.1 L500.1,65.9 L500.3,65.7 L500.6,64.8 L501.0,64.0 L501.4,63.5 L501.8,63.2 L502.3,63.2 L502.8,63.2 L503.4,63.0 L504.1,63.0 L504.8,62.5 L505.6,62.7 L506.3,62.5 L507.0,62.6 L507.7,61.8 L508.4,62.7 L509.1,61.8 L509.8,61.9 L510.5,62.5 L511.2,62.1 L511.9,62.7 L512.6,62.2 L513.3,61.9 L514.0,62.2 L514.7,62.0 L515.4,62.6 L516.1,62.6 L516.8,62.4 L517.5,62.0 L518.2,62.2 L518.9,62.5 L519.6,61.9 L520.3,61.9 L521.0,62.4 L521.7,62.4 L522.4,62.1 L523.1,62.1 L523.8,61.6 L524.5,62.5 L525.2,62.1 L525.9,61.7 L526.6,61.8 L527.3,61.9 L528.0,62.7 L528.7,62.4 L529.4,61.8 L530.1,62.7 L530.8,62.5 L531.5,61.8 L532.2,61.4 L532.9,62.4 L533.6,62.0 L534.3,62.1 L535.0,62.0 L535.7,62.5 L536.4,62.6 L537.1,62.4 L537.8,62.1 L538.6,62.2 L539.3,62.3 L540.0,61.7 L540.7,62.5 L541.4,62.1 L542.1,62.2 L542.8,62.2 L543.5,62.4 L544.2,62.5 L544.9,62.8 L545.6,62.1 L546.3,61.9 L547.0,62.2 L547.7,62.0 L548.4,62.4 L549.1,62.0 L549.8,62.2 L550.5,62.5 L551.2,62.5 L551.9,62.3 L552.6,62.6 L553.3,62.6 L554.0,61.7 L554.7,62.4 L555.4,62.3 L556.1,62.2 L556.8,62.1 L557.5,62.3 L558.2,62.4 L558.9,62.4 L559.6,62.7 L560.3,62.6 L561.0,62.2 L561.7,62.1 L562.4,62.6 L563.1,62.2 L563.8,62.4" stroke="#ff935a" stroke-width="3.15"/>
<path d="M301.7,582 L301.7,567.4" stroke="#d6d400" stroke-width="2.2"/>
<path d="M433.3,96.5 L434.5,104.2" stroke="#04780f" stroke-width="2.8"/>
<path d="M345.8,547 L345.9,552.8" stroke="#04780f" stroke-width="2.0"/>
<path d="M326.2,553 L326.4,549.8" stroke="#04780f" stroke-width="2.0"/>
</g>
<g fill="none" stroke="#000" stroke-width="1.75">
<path d="M395,88.8 L467,88.1" stroke-dasharray="5.8 5.1"/>
<path d="M425.1,58.0 L405.7,327.7" stroke-dasharray="6 5.08" stroke-dashoffset="2.45"/>
</g>
<g fill="none" stroke="#000" stroke-width="1.6" stroke-linecap="butt">
<rect x="78.2" y="23.9" width="586.0" height="589.0"/>
<path d="M175.9,23.9 V37.9 M175.9,612.85 V598.9"/>
<path d="M273.5,23.9 V37.9 M273.5,612.85 V598.9"/>
<path d="M371.2,23.9 V37.9 M371.2,612.85 V598.9"/>
<path d="M468.9,23.9 V37.9 M468.9,612.85 V598.9"/>
<path d="M566.5,23.9 V37.9 M566.5,612.85 V598.9"/>
</g>
<g stroke="#000" stroke-width="1.6" fill="#000">
<path d="M232.9,450.8 H597" fill="none"/>
<path d="M609.3,450.8 L595,447 L595,454.6 Z" stroke="none"/>
<path d="M217.5,157.2 V302" fill="none"/>
<path d="M217.5,315.0 L213.7,300.2 L221.3,300.2 Z" stroke="none"/>
</g>
<g stroke="#0b1a82" stroke-width="1.4" fill="#0b1a82">
<path d="M374.8,58.7 L406,75.5" fill="none"/>
<path d="M416.9,81.2 L407.1,71.6 L402.8,78.7 Z" stroke="none"/>
</g>
<g opacity="0.999">
<g font-family="'Liberation Serif', serif" fill="#000">
<text x="78.2" y="643.5" font-size="25" text-anchor="middle">4</text>
<text x="175.9" y="643.5" font-size="25" text-anchor="middle">5</text>
<text x="273.5" y="643.5" font-size="25" text-anchor="middle">6</text>
<text x="371.2" y="643.5" font-size="25" text-anchor="middle">7</text>
<text x="468.9" y="643.5" font-size="25" text-anchor="middle">8</text>
<text x="566.5" y="643.5" font-size="25" text-anchor="middle">9</text>
<text x="664.9" y="643.5" font-size="25" text-anchor="middle">10</text>
<text transform="translate(373.4,680.1) scale(1.005,1)" font-size="24.7" text-anchor="middle">Temperature (K)</text>
<text transform="translate(43.0,317.8) rotate(-90) scale(0.965,1)" font-size="26" text-anchor="middle">Voltage (arb. unit)</text>
<text transform="translate(192.4,155.1) scale(1.075,1)" font-size="28.6" text-anchor="end" fill="#4e53ff" stroke="#4e53ff" stroke-width="0.3">1 bar</text>
<text transform="translate(208.0,190.4) scale(1.075,1)" font-size="28.6" text-anchor="end" fill="#40f850" stroke="#40f850" stroke-width="0.3">7 kbar</text>
<text transform="translate(208.0,226.0) scale(1.075,1)" font-size="28.6" text-anchor="end" fill="#04780f" stroke="#04780f" stroke-width="0.3">57 kbar</text>
<text transform="translate(208.0,260.8) scale(1.075,1)" font-size="28.6" text-anchor="end" fill="#d6d400" stroke="#d6d400" stroke-width="0.3">48 kbar</text>
<text transform="translate(207.7,296.4) scale(1.075,1)" font-size="28.6" text-anchor="end" fill="#ff935a" stroke="#ff935a" stroke-width="0.3">28 kbar</text>
<text transform="translate(207.7,331.9) scale(1.075,1)" font-size="28.6" text-anchor="end" fill="#ff2200" stroke="#ff2200" stroke-width="0.3">38 kbar</text>
</g>
<g font-family="'Liberation Sans', sans-serif" font-style="italic" fill="#111">
<text transform="translate(347.0,65.0)" font-size="21.4">T</text>
<text transform="translate(359.2,70.1)" font-size="14.6">c</text>
</g>
</g>
</svg>
</body>
</html>
